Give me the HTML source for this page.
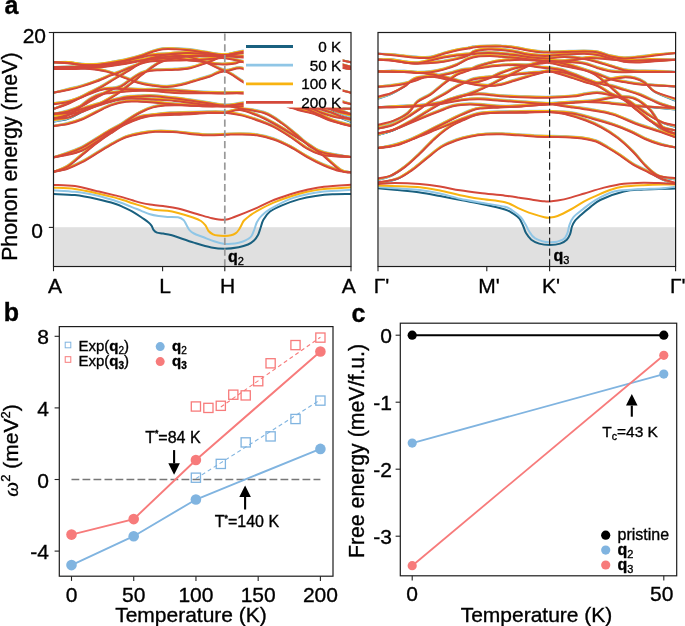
<!DOCTYPE html>
<html><head><meta charset="utf-8"><style>
html,body{margin:0;padding:0;background:#fff;}
body{width:685px;height:626px;overflow:hidden;font-family:"Liberation Sans",sans-serif;}
svg{position:absolute;left:0;top:0;}
svg{will-change:transform;}
text{stroke:#000;stroke-width:0.35px;}
</style></head><body>
<svg width="685" height="626" viewBox="0 0 685 626">
<rect x="54.5" y="227.2" width="296" height="38.6" fill="#e0e0e0"/>
<rect x="379" y="227.2" width="296" height="38.6" fill="#e0e0e0"/>
<defs><clipPath id="cl"><rect x="53.5" y="32.5" width="297.5" height="234"/></clipPath><clipPath id="cr"><rect x="378" y="32.5" width="297.6" height="234"/></clipPath></defs>
<g clip-path="url(#cl)" fill="none" stroke-linecap="round" stroke-linejoin="round">
<g stroke="#19607f" stroke-width="2.0">
<path d="M53.5,62.3 C55.9,62.3 63.2,62.1 68.0,62.5 C72.8,62.9 77.2,64.1 82.0,64.4 C86.8,64.7 92.2,64.7 97.0,64.4 C101.8,64.1 106.2,63.3 111.0,62.5 C115.8,61.7 121.0,60.8 126.0,59.6 C131.0,58.4 136.7,56.9 141.0,55.5 C145.3,54.1 148.3,52.6 152.0,51.5 C155.7,50.4 159.0,49.2 163.0,48.8 C167.0,48.3 171.5,48.6 176.0,48.8 C180.5,49.0 185.2,49.2 190.0,49.8 C194.8,50.3 199.2,51.3 205.0,52.1 C210.8,52.9 218.5,54.9 224.8,54.7 C231.1,54.6 235.5,52.1 243.0,51.2 C250.5,50.3 260.5,49.5 270.0,49.5 C279.5,49.5 290.8,50.3 300.0,51.5 C309.2,52.7 316.5,54.7 325.0,56.5 C333.5,58.3 346.7,61.3 351.0,62.3"/>
<path d="M53.5,68.9 C57.1,68.8 68.9,68.5 75.0,68.4 C81.1,68.3 85.2,68.0 90.0,68.4 C94.8,68.8 100.0,69.8 104.0,70.6 C108.0,71.4 110.3,72.3 114.0,73.5 C117.7,74.7 122.0,76.5 126.0,77.9 C130.0,79.4 133.5,81.0 138.0,82.2 C142.5,83.4 148.2,84.5 153.0,85.2 C157.8,85.9 162.3,86.6 167.0,86.5 C171.7,86.4 176.3,85.5 181.0,84.5 C185.7,83.5 190.2,81.9 195.0,80.5 C199.8,79.1 205.0,77.6 210.0,76.0 C215.0,74.4 219.3,70.1 224.8,71.0 C230.3,71.9 236.8,78.1 243.0,81.5 C249.2,84.9 255.0,88.5 262.0,91.5 C269.0,94.5 277.8,97.5 285.0,99.5 C292.2,101.5 299.2,102.4 305.0,103.5 C310.8,104.6 315.5,105.2 320.0,106.0 C324.5,106.8 328.3,107.2 332.0,108.0 C335.7,108.8 338.8,110.0 342.0,111.0 C345.2,112.0 349.5,113.6 351.0,114.1"/>
<path d="M53.5,68.9 C58.2,68.7 74.8,67.9 82.0,67.6 C89.2,67.3 92.2,67.2 97.0,66.9 C101.8,66.6 106.2,66.1 111.0,65.5 C115.8,64.9 121.0,64.2 126.0,63.3 C131.0,62.4 136.5,61.3 141.0,60.3 C145.5,59.3 147.3,58.2 153.0,57.5 C158.7,56.8 166.7,56.3 175.0,56.0 C183.3,55.7 194.7,55.9 203.0,55.8 C211.3,55.7 218.1,55.3 224.8,55.5 C231.5,55.7 235.5,56.7 243.0,57.0 C250.5,57.3 260.5,56.8 270.0,57.5 C279.5,58.2 290.8,60.2 300.0,61.5 C309.2,62.8 316.5,64.3 325.0,65.5 C333.5,66.7 346.7,68.3 351.0,68.9"/>
<path d="M53.5,92.7 C55.9,92.2 63.2,90.6 68.0,89.5 C72.8,88.4 77.2,87.4 82.0,85.9 C86.8,84.5 92.2,82.6 97.0,80.8 C101.8,79.0 107.3,76.4 111.0,74.9 C114.7,73.4 115.3,73.5 119.0,72.0 C122.7,70.5 127.8,68.0 133.0,66.2 C138.2,64.4 143.0,62.0 150.0,61.0 C157.0,60.0 167.5,60.2 175.0,60.0 C182.5,59.8 189.2,59.8 195.0,59.5 C200.8,59.2 205.0,58.8 210.0,58.5 C215.0,58.2 219.3,57.2 224.8,57.7 C230.3,58.2 235.5,59.5 243.0,61.5 C250.5,63.5 260.5,66.2 270.0,69.5 C279.5,72.8 290.8,77.2 300.0,81.5 C309.2,85.8 318.0,92.2 325.0,95.5 C332.0,98.8 337.7,100.1 342.0,101.5 C346.3,102.9 349.5,103.6 351.0,104.0"/>
<path d="M53.5,103.6 C55.9,103.2 63.2,102.6 68.0,101.5 C72.8,100.4 77.7,98.4 82.0,96.8 C86.3,95.2 90.3,93.0 94.0,91.7 C97.7,90.4 100.7,89.4 104.0,88.8 C107.3,88.2 110.3,88.1 114.0,88.1 C117.7,88.1 121.5,88.6 126.0,88.8 C130.5,89.0 136.5,89.4 141.0,89.5 C145.5,89.6 147.3,89.4 153.0,89.5 C158.7,89.6 167.2,89.6 175.0,90.0 C182.8,90.4 191.7,91.5 200.0,92.0 C208.3,92.5 217.6,92.7 224.8,92.8 C232.0,92.9 235.5,92.3 243.0,92.8 C250.5,93.2 260.5,94.4 270.0,95.5 C279.5,96.6 292.5,98.2 300.0,99.5 C307.5,100.8 310.5,101.7 315.0,103.0 C319.5,104.3 323.5,106.2 326.8,107.5 C330.1,108.9 332.3,110.2 335.0,111.4 C337.7,112.6 340.3,113.8 343.0,114.8 C345.7,115.8 349.7,116.8 351.0,117.2"/>
<path d="M53.5,113.9 C55.9,113.4 63.2,112.4 68.0,111.0 C72.8,109.6 77.2,107.8 82.0,105.5 C86.8,103.2 92.2,99.7 97.0,97.0 C101.8,94.3 107.0,91.3 111.0,89.5 C115.0,87.7 117.5,87.8 120.7,86.2 C123.9,84.6 126.5,82.2 129.9,80.0 C133.3,77.8 137.5,74.5 141.1,72.9 C144.7,71.3 148.2,70.8 151.3,70.3 C154.5,69.8 156.1,69.9 160.0,69.7 C163.9,69.5 170.0,69.6 175.0,69.3 C180.0,69.0 184.7,69.0 190.0,67.8 C195.3,66.6 200.9,64.4 206.7,62.3 C212.5,60.2 218.8,57.0 224.8,55.3 C230.9,53.6 235.5,52.8 243.0,52.0 C250.5,51.2 260.5,50.2 270.0,50.5 C279.5,50.8 290.8,52.0 300.0,53.5 C309.2,55.0 316.5,57.2 325.0,59.5 C333.5,61.8 346.7,65.8 351.0,67.0"/>
<path d="M53.5,62.3 C56.2,62.4 63.9,62.6 70.0,63.0 C76.1,63.4 83.3,64.7 90.0,64.8 C96.7,64.9 103.3,64.4 110.0,63.5 C116.7,62.6 123.3,60.9 130.0,59.5 C136.7,58.1 143.3,55.9 150.0,55.0 C156.7,54.1 163.4,53.7 170.0,54.0 C176.6,54.3 183.5,55.2 189.6,56.6 C195.7,58.0 200.8,60.0 206.7,62.3 C212.6,64.6 218.8,69.3 224.8,70.3 C230.9,71.3 236.3,65.9 243.0,68.3 C249.7,70.7 258.8,79.3 265.0,84.5 C271.2,89.7 275.8,95.7 280.0,99.5 C284.2,103.3 285.0,105.9 290.0,107.3 C295.0,108.7 303.3,107.8 310.0,107.9 C316.7,108.1 323.2,108.1 330.0,108.2 C336.8,108.3 347.5,108.7 351.0,108.8"/>
<path d="M53.5,118.2 C55.4,117.8 61.4,117.3 65.0,116.0 C68.6,114.7 72.2,112.3 75.0,110.5 C77.8,108.7 79.3,107.0 82.0,105.0 C84.7,103.0 87.8,100.1 91.0,98.3 C94.2,96.5 97.7,94.9 101.0,93.9 C104.3,92.9 106.8,93.0 111.0,92.5 C115.2,92.0 121.0,91.4 126.0,91.0 C131.0,90.6 136.5,90.4 141.0,90.3 C145.5,90.2 147.3,90.1 153.0,90.5 C158.7,90.9 167.2,92.1 175.0,92.5 C182.8,92.9 191.7,92.7 200.0,92.8 C208.3,92.9 217.6,92.9 224.8,92.9 C232.0,92.9 235.5,92.6 243.0,92.9 C250.5,93.2 262.2,93.4 270.0,94.5 C277.8,95.6 284.2,98.0 290.0,99.5 C295.8,101.0 300.3,102.1 305.0,103.5 C309.7,104.9 313.6,106.4 318.0,108.0 C322.4,109.6 327.7,111.2 331.6,112.8 C335.5,114.5 338.0,116.6 341.2,118.1 C344.4,119.5 349.4,121.1 351.0,121.7"/>
<path d="M53.5,117.1 C55.9,116.7 63.2,115.9 68.0,114.5 C72.8,113.2 77.2,110.6 82.0,108.9 C86.8,107.2 92.2,105.5 97.0,104.1 C101.8,102.7 106.2,101.7 111.0,100.5 C115.8,99.3 121.0,97.8 126.0,97.0 C131.0,96.2 136.5,96.2 141.0,96.0 C145.5,95.8 147.3,95.4 153.0,95.7 C158.7,96.0 168.8,97.2 175.0,97.9 C181.2,98.6 184.2,99.2 190.0,100.0 C195.8,100.8 204.2,102.1 210.0,103.0 C215.8,103.9 219.3,105.1 224.8,105.2 C230.3,105.3 235.5,104.2 243.0,103.7 C250.5,103.2 261.8,102.0 270.0,102.0 C278.2,102.0 286.2,103.0 292.0,104.0 C297.8,105.0 300.3,106.2 305.0,108.0 C309.7,109.8 315.0,112.3 320.0,114.5 C325.0,116.7 329.8,119.2 335.0,121.0 C340.2,122.8 348.3,124.8 351.0,125.5"/>
<path d="M53.5,121.5 C55.9,121.1 63.2,120.4 68.0,118.8 C72.8,117.2 77.2,114.0 82.0,111.8 C86.8,109.6 92.2,107.4 97.0,105.6 C101.8,103.8 106.2,102.4 111.0,101.2 C115.8,100.0 121.0,98.8 126.0,98.3 C131.0,97.8 136.5,98.2 141.0,98.3 C145.5,98.4 147.3,98.6 153.0,99.0 C158.7,99.4 167.2,99.7 175.0,100.5 C182.8,101.3 191.7,102.8 200.0,103.7 C208.3,104.6 217.6,105.6 224.8,105.9 C232.0,106.2 236.8,106.1 243.0,105.8 C249.2,105.5 255.5,104.2 262.0,104.0 C268.5,103.8 277.0,104.0 282.0,104.5 C287.0,105.0 289.3,106.2 292.0,107.0 C294.7,107.8 294.5,108.5 298.0,109.5 C301.5,110.5 307.6,111.4 312.8,113.1 C318.0,114.8 324.7,118.0 329.3,119.7 C333.9,121.4 336.6,122.0 340.2,123.0 C343.8,124.0 349.2,125.3 351.0,125.8"/>
<path d="M53.5,125.9 C55.9,125.5 63.2,124.7 68.0,123.5 C72.8,122.3 77.2,121.0 82.0,119.0 C86.8,117.0 92.2,113.8 97.0,111.5 C101.8,109.2 106.2,106.6 111.0,104.9 C115.8,103.2 121.0,101.8 126.0,101.2 C131.0,100.6 136.5,101.1 141.0,101.2 C145.5,101.3 147.3,101.4 153.0,101.9 C158.7,102.4 167.2,103.4 175.0,104.0 C182.8,104.6 191.7,105.2 200.0,105.5 C208.3,105.8 217.6,106.3 224.8,105.9 C232.0,105.5 235.5,103.9 243.0,103.0 C250.5,102.1 261.0,100.4 270.0,100.5 C279.0,100.6 290.0,102.2 297.0,103.5 C304.0,104.8 307.6,106.5 311.8,108.0 C316.0,109.5 318.1,111.1 322.0,112.5 C325.9,113.9 330.2,115.4 335.0,116.5 C339.8,117.6 348.3,118.5 351.0,118.9"/>
<path d="M53.5,67.0 C57.9,66.9 70.6,66.9 80.0,66.5 C89.4,66.1 101.7,65.3 110.0,64.5 C118.3,63.7 123.3,62.4 130.0,61.5 C136.7,60.6 142.7,59.6 150.0,59.0 C157.3,58.4 167.5,57.6 174.0,57.7 C180.5,57.9 184.2,59.3 189.0,59.9 C193.8,60.5 198.7,60.8 203.0,61.4 C207.3,62.0 211.4,63.2 215.0,63.6 C218.6,64.0 221.4,64.1 224.8,64.0 C228.2,63.9 232.5,63.3 235.5,62.9 C238.5,62.5 237.2,61.0 243.0,61.4 C248.8,61.8 260.5,63.3 270.0,65.5 C279.5,67.7 290.8,71.2 300.0,74.5 C309.2,77.8 316.5,82.5 325.0,85.5 C333.5,88.5 346.7,91.5 351.0,92.7"/>
<path d="M53.5,108.9 C56.2,107.8 63.9,105.3 70.0,102.5 C76.1,99.7 85.0,94.8 90.0,92.3 C95.0,89.8 96.8,89.1 100.2,87.2 C103.6,85.3 107.0,83.1 110.4,81.1 C113.8,79.0 117.3,77.0 120.7,74.9 C124.1,72.9 127.5,70.9 130.9,68.8 C134.3,66.7 137.7,64.3 141.0,62.5 C144.3,60.7 147.8,59.2 151.0,58.0 C154.2,56.8 156.0,56.3 160.0,55.5 C164.0,54.7 170.0,53.5 175.0,53.0 C180.0,52.5 185.0,52.4 190.0,52.5 C195.0,52.6 199.2,53.1 205.0,53.5 C210.8,53.9 218.5,55.1 224.8,54.9 C231.1,54.7 235.5,53.1 243.0,52.5 C250.5,51.9 260.5,51.2 270.0,51.5 C279.5,51.8 290.8,52.8 300.0,54.5 C309.2,56.2 316.5,59.4 325.0,61.5 C333.5,63.6 346.7,66.1 351.0,67.0"/>
<path d="M53.5,118.7 C56.2,117.9 64.8,115.5 70.0,114.0 C75.2,112.5 80.0,111.2 85.0,109.5 C90.0,107.8 95.0,105.9 100.0,103.5 C105.0,101.1 110.0,98.2 115.0,95.0 C120.0,91.8 125.0,87.8 130.0,84.0 C135.0,80.2 140.0,75.7 145.0,72.0 C150.0,68.3 155.0,64.4 160.0,62.0 C165.0,59.6 170.0,58.8 175.0,57.7 C180.0,56.6 185.0,56.0 190.0,55.5 C195.0,55.0 199.2,55.1 205.0,55.0 C210.8,54.9 218.5,54.7 224.8,54.9 C231.1,55.1 235.5,55.9 243.0,56.0 C250.5,56.1 260.5,54.9 270.0,55.5 C279.5,56.1 290.8,58.0 300.0,59.5 C309.2,61.0 316.5,62.9 325.0,64.5 C333.5,66.1 346.7,68.2 351.0,68.9"/>
<path d="M53.5,171.9 C55.9,171.3 62.8,169.9 67.6,168.2 C72.4,166.5 77.3,164.2 82.2,161.7 C87.1,159.1 91.9,155.8 96.8,152.9 C101.7,150.0 106.5,146.8 111.4,144.1 C116.3,141.4 121.1,138.6 126.0,136.8 C130.9,135.0 135.8,134.1 140.6,133.2 C145.4,132.3 149.7,131.6 155.0,131.3 C160.3,131.0 166.8,131.2 172.6,131.6 C178.4,131.9 184.2,132.9 190.0,133.4 C195.8,133.9 201.8,134.7 207.6,134.8 C213.4,135.0 219.4,134.5 224.8,134.3 C230.2,134.2 234.7,133.8 240.0,133.9 C245.3,134.0 251.2,134.0 256.8,134.8 C262.4,135.7 268.0,137.1 273.6,139.0 C279.2,140.9 284.8,143.6 290.4,146.5 C296.0,149.4 301.5,153.5 307.1,156.6 C312.7,159.7 318.3,162.6 323.9,165.0 C329.5,167.4 336.2,169.7 340.7,170.9 C345.2,172.1 349.3,172.0 351.0,172.2"/>
<path d="M53.5,171.9 C55.9,170.9 62.8,168.9 67.6,166.0 C72.4,163.1 77.3,158.3 82.2,154.4 C87.1,150.5 91.9,146.3 96.8,142.7 C101.7,139.0 106.5,135.7 111.4,132.5 C116.3,129.3 121.1,126.1 126.0,123.7 C130.9,121.3 136.1,119.4 140.6,117.9 C145.1,116.4 148.1,115.7 153.0,114.9 C157.9,114.1 163.8,113.4 170.0,113.0 C176.2,112.6 183.7,112.7 190.0,112.5 C196.3,112.3 201.8,112.0 207.6,112.0 C213.4,112.0 219.4,111.8 224.8,112.2 C230.2,112.6 234.7,113.3 240.0,114.6 C245.3,115.8 251.2,117.7 256.8,119.7 C262.4,121.7 268.0,123.6 273.6,126.4 C279.2,129.2 284.8,132.9 290.4,136.5 C296.0,140.1 302.1,145.3 307.1,148.2 C312.1,151.1 316.1,152.8 320.6,154.1 C325.1,155.4 328.9,155.3 334.0,155.8 C339.1,156.3 348.2,156.9 351.0,157.1"/>
<path d="M53.5,157.3 C55.9,156.8 62.8,155.6 67.6,154.4 C72.4,153.2 77.3,152.2 82.2,150.0 C87.1,147.8 91.9,144.4 96.8,141.2 C101.7,138.0 106.5,134.4 111.4,131.0 C116.3,127.6 121.1,124.0 126.0,120.8 C130.9,117.6 136.1,114.3 140.6,112.0 C145.1,109.7 148.9,108.1 153.0,106.9 C157.1,105.7 160.5,105.3 165.0,105.0 C169.5,104.7 175.0,104.8 180.0,104.8 C185.0,104.8 190.0,105.1 195.0,105.3 C200.0,105.5 205.0,105.8 210.0,105.8 C215.0,105.8 219.8,104.8 224.8,105.2 C229.8,105.6 233.3,106.6 240.0,107.9 C246.7,109.2 258.2,110.5 265.2,113.0 C272.2,115.5 276.4,119.1 282.0,123.0 C287.6,126.9 294.1,132.6 298.8,136.5 C303.6,140.4 306.3,143.8 310.5,146.5 C314.7,149.2 317.1,150.6 323.9,152.4 C330.6,154.2 346.5,156.3 351.0,157.1"/>
<path d="M53.5,157.3 C55.9,156.6 62.8,154.6 67.6,152.9 C72.4,151.2 77.3,149.5 82.2,147.1 C87.1,144.7 91.9,141.2 96.8,138.3 C101.7,135.4 106.5,132.2 111.4,129.5 C116.3,126.8 121.1,124.4 126.0,122.2 C130.9,120.0 136.1,117.6 140.6,116.4 C145.1,115.2 148.1,115.2 153.0,114.9 C157.9,114.6 163.8,114.7 170.0,114.5 C176.2,114.3 183.7,114.1 190.0,113.8 C196.3,113.5 201.8,112.8 207.6,112.5 C213.4,112.2 219.4,112.7 224.8,112.2 C230.2,111.7 234.8,109.2 240.0,109.6 C245.2,110.0 250.4,112.3 256.0,114.5 C261.6,116.7 266.5,119.1 273.6,123.0 C280.7,126.9 291.2,133.3 298.8,138.1 C306.4,142.9 311.9,146.3 318.9,151.6 C325.9,156.9 335.3,166.6 340.7,170.0 C346.1,173.4 349.3,171.8 351.0,172.2"/>
</g>
<g stroke="#8fc6e6" stroke-width="2.0">
<path d="M53.5,62.3 C55.9,62.2 63.2,61.6 68.0,61.9 C72.8,62.1 77.2,63.4 82.0,63.8 C86.8,64.1 92.2,64.1 97.0,63.8 C101.8,63.4 106.2,62.7 111.0,61.9 C115.8,61.0 121.0,60.1 126.0,59.0 C131.0,57.8 136.7,56.2 141.0,54.9 C145.3,53.5 148.3,52.0 152.0,50.9 C155.7,49.7 159.0,48.6 163.0,48.1 C167.0,47.7 171.5,48.0 176.0,48.1 C180.5,48.3 185.2,48.6 190.0,49.1 C194.8,49.7 199.2,50.6 205.0,51.5 C210.8,52.3 218.5,54.2 224.8,54.1 C231.1,53.9 235.5,51.4 243.0,50.6 C250.5,49.7 260.5,48.8 270.0,48.9 C279.5,48.9 290.8,49.7 300.0,50.9 C309.2,52.0 316.5,53.9 325.0,55.9 C333.5,57.8 346.7,61.2 351.0,62.3"/>
<path d="M53.5,68.9 C57.1,68.7 68.9,67.9 75.0,67.8 C81.1,67.6 85.2,67.4 90.0,67.8 C94.8,68.1 100.0,69.1 104.0,69.9 C108.0,70.8 110.3,71.6 114.0,72.8 C117.7,74.1 122.0,75.8 126.0,77.2 C130.0,78.7 133.5,80.3 138.0,81.5 C142.5,82.8 148.2,83.8 153.0,84.5 C157.8,85.3 162.3,86.0 167.0,85.8 C171.7,85.7 176.3,84.8 181.0,83.8 C185.7,82.8 190.2,81.3 195.0,79.8 C199.8,78.4 205.0,76.9 210.0,75.3 C215.0,73.8 219.3,69.4 224.8,70.3 C230.3,71.3 236.8,77.4 243.0,80.8 C249.2,84.3 255.0,87.8 262.0,90.8 C269.0,93.8 277.8,96.8 285.0,98.8 C292.2,100.8 299.2,101.8 305.0,102.8 C310.8,103.9 315.5,104.6 320.0,105.3 C324.5,106.1 328.3,106.5 332.0,107.3 C335.7,108.2 338.8,109.2 342.0,110.3 C345.2,111.5 349.5,113.5 351.0,114.1"/>
<path d="M53.5,68.9 C58.2,68.6 74.8,67.4 82.0,66.9 C89.2,66.5 92.2,66.6 97.0,66.2 C101.8,65.9 106.2,65.4 111.0,64.8 C115.8,64.2 121.0,63.5 126.0,62.6 C131.0,61.8 136.5,60.6 141.0,59.6 C145.5,58.7 147.3,57.6 153.0,56.9 C158.7,56.1 166.7,55.6 175.0,55.4 C183.3,55.1 194.7,55.2 203.0,55.1 C211.3,55.1 218.1,54.6 224.8,54.9 C231.5,55.1 235.5,56.0 243.0,56.4 C250.5,56.7 260.5,56.1 270.0,56.9 C279.5,57.6 290.8,59.5 300.0,60.9 C309.2,62.2 316.5,63.5 325.0,64.8 C333.5,66.2 346.7,68.2 351.0,68.9"/>
<path d="M53.5,92.7 C55.9,92.1 63.2,90.1 68.0,88.8 C72.8,87.6 77.2,86.7 82.0,85.2 C86.8,83.8 92.2,82.0 97.0,80.1 C101.8,78.3 107.3,75.7 111.0,74.2 C114.7,72.8 115.3,72.8 119.0,71.3 C122.7,69.9 127.8,67.4 133.0,65.5 C138.2,63.7 143.0,61.4 150.0,60.4 C157.0,59.3 167.5,59.6 175.0,59.4 C182.5,59.1 189.2,59.1 195.0,58.9 C200.8,58.6 205.0,58.1 210.0,57.9 C215.0,57.6 219.3,56.6 224.8,57.1 C230.3,57.6 235.5,58.9 243.0,60.9 C250.5,62.8 260.5,65.5 270.0,68.8 C279.5,72.2 290.8,76.5 300.0,80.8 C309.2,85.2 318.0,91.5 325.0,94.8 C332.0,98.2 337.7,99.3 342.0,100.8 C346.3,102.4 349.5,103.5 351.0,104.0"/>
<path d="M53.5,102.9 C55.9,102.6 63.2,102.0 68.0,100.8 C72.8,99.7 77.7,97.8 82.0,96.1 C86.3,94.5 90.3,92.4 94.0,91.0 C97.7,89.7 100.7,88.8 104.0,88.1 C107.3,87.5 110.3,87.4 114.0,87.4 C117.7,87.4 121.5,87.9 126.0,88.1 C130.5,88.4 136.5,88.7 141.0,88.8 C145.5,89.0 147.3,88.8 153.0,88.8 C158.7,88.9 167.2,88.9 175.0,89.3 C182.8,89.8 191.7,90.9 200.0,91.3 C208.3,91.8 217.6,92.0 224.8,92.1 C232.0,92.3 235.5,91.7 243.0,92.1 C250.5,92.6 260.5,93.7 270.0,94.8 C279.5,96.0 292.5,97.6 300.0,98.8 C307.5,100.1 310.5,101.0 315.0,102.3 C319.5,103.7 323.5,105.5 326.8,106.9 C330.1,108.4 332.3,109.7 335.0,110.9 C337.7,112.2 340.3,113.5 343.0,114.5 C345.7,115.5 349.7,116.6 351.0,117.0"/>
<path d="M53.5,113.9 C55.9,113.3 63.2,111.9 68.0,110.3 C72.8,108.8 77.2,107.2 82.0,104.8 C86.8,102.5 92.2,99.0 97.0,96.3 C101.8,93.7 107.0,90.6 111.0,88.8 C115.0,87.0 117.5,87.1 120.7,85.5 C123.9,84.0 126.5,81.6 129.9,79.3 C133.3,77.1 137.5,73.9 141.1,72.2 C144.7,70.6 148.2,70.2 151.3,69.6 C154.5,69.1 156.1,69.2 160.0,69.0 C163.9,68.9 170.0,69.0 175.0,68.6 C180.0,68.3 184.7,68.3 190.0,67.1 C195.3,66.0 200.9,63.7 206.7,61.6 C212.5,59.6 218.8,56.4 224.8,54.6 C230.9,52.9 235.5,52.1 243.0,51.4 C250.5,50.6 260.5,49.6 270.0,49.9 C279.5,50.1 290.8,51.4 300.0,52.9 C309.2,54.4 316.5,56.5 325.0,58.9 C333.5,61.2 346.7,65.6 351.0,67.0"/>
<path d="M53.5,62.3 C56.2,62.3 63.9,62.0 70.0,62.4 C76.1,62.7 83.3,64.1 90.0,64.1 C96.7,64.2 103.3,63.7 110.0,62.9 C116.7,62.0 123.3,60.3 130.0,58.9 C136.7,57.4 143.3,55.3 150.0,54.4 C156.7,53.4 163.4,53.1 170.0,53.4 C176.6,53.6 183.5,54.6 189.6,56.0 C195.7,57.3 200.8,59.4 206.7,61.6 C212.6,63.9 218.8,68.6 224.8,69.6 C230.9,70.6 236.3,65.3 243.0,67.6 C249.7,70.0 258.8,78.6 265.0,83.8 C271.2,89.0 275.8,95.0 280.0,98.8 C284.2,102.6 285.0,105.2 290.0,106.6 C295.0,108.0 303.3,107.1 310.0,107.2 C316.7,107.4 323.2,107.3 330.0,107.5 C336.8,107.8 347.5,108.6 351.0,108.8"/>
<path d="M53.5,117.5 C55.4,117.2 61.4,116.6 65.0,115.3 C68.6,114.1 72.2,111.7 75.0,109.8 C77.8,108.0 79.3,106.4 82.0,104.3 C84.7,102.3 87.8,99.5 91.0,97.6 C94.2,95.8 97.7,94.2 101.0,93.2 C104.3,92.3 106.8,92.3 111.0,91.8 C115.2,91.4 121.0,90.7 126.0,90.3 C131.0,90.0 136.5,89.7 141.0,89.6 C145.5,89.6 147.3,89.5 153.0,89.8 C158.7,90.2 167.2,91.5 175.0,91.8 C182.8,92.2 191.7,92.1 200.0,92.1 C208.3,92.2 217.6,92.2 224.8,92.2 C232.0,92.3 235.5,92.0 243.0,92.2 C250.5,92.5 262.2,92.8 270.0,93.8 C277.8,94.9 284.2,97.3 290.0,98.8 C295.8,100.3 300.3,101.4 305.0,102.8 C309.7,104.3 313.6,105.8 318.0,107.3 C322.4,108.9 327.7,110.6 331.6,112.3 C335.5,114.0 338.0,116.2 341.2,117.7 C344.4,119.3 349.4,120.9 351.0,121.6"/>
<path d="M53.5,116.9 C55.9,116.5 63.2,115.6 68.0,114.1 C72.8,112.7 77.2,110.1 82.0,108.3 C86.8,106.5 92.2,104.9 97.0,103.4 C101.8,102.0 106.2,101.0 111.0,99.8 C115.8,98.7 121.0,97.1 126.0,96.3 C131.0,95.6 136.5,95.6 141.0,95.3 C145.5,95.1 147.3,94.7 153.0,95.0 C158.7,95.4 168.8,96.5 175.0,97.2 C181.2,98.0 184.2,98.5 190.0,99.3 C195.8,100.2 204.2,101.5 210.0,102.3 C215.8,103.2 219.3,104.4 224.8,104.5 C230.3,104.7 235.5,103.6 243.0,103.0 C250.5,102.5 261.8,101.3 270.0,101.3 C278.2,101.4 286.2,102.3 292.0,103.3 C297.8,104.3 300.3,105.6 305.0,107.3 C309.7,109.1 315.0,111.7 320.0,113.8 C325.0,116.0 329.8,118.5 335.0,120.3 C340.2,122.2 348.3,124.1 351.0,124.8"/>
<path d="M53.5,121.4 C55.9,120.9 63.2,120.1 68.0,118.4 C72.8,116.7 77.2,113.4 82.0,111.2 C86.8,108.9 92.2,106.7 97.0,104.9 C101.8,103.2 106.2,101.8 111.0,100.5 C115.8,99.3 121.0,98.1 126.0,97.6 C131.0,97.2 136.5,97.5 141.0,97.6 C145.5,97.8 147.3,98.0 153.0,98.3 C158.7,98.7 167.2,99.1 175.0,99.8 C182.8,100.6 191.7,102.1 200.0,103.0 C208.3,104.0 217.6,104.9 224.8,105.2 C232.0,105.6 236.8,105.5 243.0,105.1 C249.2,104.8 255.5,103.6 262.0,103.3 C268.5,103.1 277.0,103.3 282.0,103.8 C287.0,104.3 289.3,105.5 292.0,106.3 C294.7,107.2 294.5,107.8 298.0,108.8 C301.5,109.9 307.6,110.7 312.8,112.4 C318.0,114.1 324.7,117.4 329.3,119.0 C333.9,120.7 336.6,121.3 340.2,122.3 C343.8,123.4 349.2,124.7 351.0,125.1"/>
<path d="M53.5,125.9 C55.9,125.4 63.2,124.1 68.0,122.8 C72.8,121.6 77.2,120.3 82.0,118.3 C86.8,116.3 92.2,113.2 97.0,110.8 C101.8,108.5 106.2,106.0 111.0,104.2 C115.8,102.5 121.0,101.2 126.0,100.5 C131.0,99.9 136.5,100.4 141.0,100.5 C145.5,100.7 147.3,100.8 153.0,101.2 C158.7,101.7 167.2,102.8 175.0,103.3 C182.8,103.9 191.7,104.5 200.0,104.8 C208.3,105.2 217.6,105.7 224.8,105.2 C232.0,104.8 235.5,103.2 243.0,102.3 C250.5,101.4 261.0,99.8 270.0,99.8 C279.0,99.9 290.0,101.6 297.0,102.8 C304.0,104.1 307.6,105.8 311.8,107.3 C316.0,108.8 318.1,110.4 322.0,111.8 C325.9,113.3 330.2,114.7 335.0,115.8 C339.8,117.0 348.3,118.4 351.0,118.9"/>
<path d="M53.5,67.0 C57.9,66.8 70.6,66.4 80.0,65.8 C89.4,65.3 101.7,64.7 110.0,63.9 C118.3,63.0 123.3,61.8 130.0,60.9 C136.7,59.9 142.7,59.0 150.0,58.4 C157.3,57.7 167.5,56.9 174.0,57.1 C180.5,57.2 184.2,58.6 189.0,59.2 C193.8,59.9 198.7,60.1 203.0,60.8 C207.3,61.4 211.4,62.5 215.0,62.9 C218.6,63.4 221.4,63.5 224.8,63.4 C228.2,63.2 232.5,62.7 235.5,62.2 C238.5,61.8 237.2,60.3 243.0,60.8 C248.8,61.2 260.5,62.7 270.0,64.8 C279.5,67.0 290.8,70.5 300.0,73.8 C309.2,77.2 316.5,81.7 325.0,84.8 C333.5,88.0 346.7,91.4 351.0,92.7"/>
<path d="M53.5,108.9 C56.2,107.7 63.9,104.7 70.0,101.8 C76.1,99.0 85.0,94.2 90.0,91.6 C95.0,89.1 96.8,88.4 100.2,86.5 C103.6,84.7 107.0,82.5 110.4,80.4 C113.8,78.4 117.3,76.3 120.7,74.2 C124.1,72.2 127.5,70.2 130.9,68.1 C134.3,66.1 137.7,63.6 141.0,61.9 C144.3,60.1 147.8,58.5 151.0,57.4 C154.2,56.2 156.0,55.7 160.0,54.9 C164.0,54.0 170.0,52.9 175.0,52.4 C180.0,51.9 185.0,51.8 190.0,51.9 C195.0,51.9 199.2,52.5 205.0,52.9 C210.8,53.2 218.5,54.4 224.8,54.2 C231.1,54.1 235.5,52.4 243.0,51.9 C250.5,51.3 260.5,50.5 270.0,50.9 C279.5,51.2 290.8,52.2 300.0,53.9 C309.2,55.5 316.5,58.7 325.0,60.9 C333.5,63.0 346.7,66.0 351.0,67.0"/>
<path d="M53.5,118.7 C56.2,117.8 64.8,115.0 70.0,113.3 C75.2,111.7 80.0,110.6 85.0,108.8 C90.0,107.1 95.0,105.3 100.0,102.8 C105.0,100.4 110.0,97.6 115.0,94.3 C120.0,91.1 125.0,87.2 130.0,83.3 C135.0,79.5 140.0,75.0 145.0,71.3 C150.0,67.7 155.0,63.7 160.0,61.4 C165.0,59.0 170.0,58.1 175.0,57.1 C180.0,56.0 185.0,55.3 190.0,54.9 C195.0,54.4 199.2,54.5 205.0,54.4 C210.8,54.2 218.5,54.1 224.8,54.2 C231.1,54.4 235.5,55.2 243.0,55.4 C250.5,55.5 260.5,54.3 270.0,54.9 C279.5,55.4 290.8,57.4 300.0,58.9 C309.2,60.4 316.5,62.2 325.0,63.9 C333.5,65.5 346.7,68.1 351.0,68.9"/>
<path d="M53.5,171.9 C55.9,171.2 62.8,169.4 67.6,167.5 C72.4,165.7 77.3,163.6 82.2,161.0 C87.1,158.5 91.9,155.2 96.8,152.2 C101.7,149.3 106.5,146.1 111.4,143.4 C116.3,140.8 121.1,138.0 126.0,136.2 C130.9,134.3 135.8,133.5 140.6,132.5 C145.4,131.6 149.7,130.9 155.0,130.7 C160.3,130.4 166.8,130.6 172.6,130.9 C178.4,131.3 184.2,132.2 190.0,132.8 C195.8,133.3 201.8,134.0 207.6,134.2 C213.4,134.3 219.4,133.8 224.8,133.7 C230.2,133.5 234.7,133.2 240.0,133.2 C245.3,133.3 251.2,133.3 256.8,134.2 C262.4,135.0 268.0,136.4 273.6,138.3 C279.2,140.3 284.8,142.9 290.4,145.8 C296.0,148.8 301.5,152.9 307.1,155.9 C312.7,159.0 318.3,162.0 323.9,164.3 C329.5,166.7 336.2,168.9 340.7,170.2 C345.2,171.6 349.3,171.9 351.0,172.2"/>
<path d="M53.5,171.9 C55.9,170.8 62.8,168.4 67.6,165.3 C72.4,162.3 77.3,157.6 82.2,153.8 C87.1,149.9 91.9,145.7 96.8,142.0 C101.7,138.4 106.5,135.0 111.4,131.8 C116.3,128.7 121.1,125.5 126.0,123.0 C130.9,120.6 136.1,118.7 140.6,117.2 C145.1,115.8 148.1,115.1 153.0,114.2 C157.9,113.4 163.8,112.8 170.0,112.3 C176.2,111.9 183.7,112.0 190.0,111.8 C196.3,111.7 201.8,111.4 207.6,111.3 C213.4,111.3 219.4,111.1 224.8,111.5 C230.2,112.0 234.7,112.7 240.0,113.9 C245.3,115.2 251.2,117.1 256.8,119.0 C262.4,121.0 268.0,123.0 273.6,125.8 C279.2,128.6 284.8,132.2 290.4,135.8 C296.0,139.5 302.1,144.6 307.1,147.5 C312.1,150.5 316.1,152.2 320.6,153.4 C325.1,154.7 328.9,154.5 334.0,155.2 C339.1,155.8 348.2,156.8 351.0,157.1"/>
<path d="M53.5,157.3 C55.9,156.7 62.8,155.1 67.6,153.8 C72.4,152.4 77.3,151.6 82.2,149.3 C87.1,147.1 91.9,143.7 96.8,140.5 C101.7,137.4 106.5,133.8 111.4,130.3 C116.3,126.9 121.1,123.3 126.0,120.1 C130.9,117.0 136.1,113.7 140.6,111.3 C145.1,109.0 148.9,107.4 153.0,106.2 C157.1,105.1 160.5,104.7 165.0,104.3 C169.5,104.0 175.0,104.1 180.0,104.1 C185.0,104.2 190.0,104.5 195.0,104.6 C200.0,104.8 205.0,105.2 210.0,105.1 C215.0,105.1 219.8,104.2 224.8,104.5 C229.8,104.9 233.3,106.0 240.0,107.2 C246.7,108.5 258.2,109.8 265.2,112.3 C272.2,114.9 276.4,118.4 282.0,122.3 C287.6,126.3 294.1,131.9 298.8,135.8 C303.6,139.8 306.3,143.2 310.5,145.8 C314.7,148.5 317.1,149.9 323.9,151.8 C330.6,153.6 346.5,156.2 351.0,157.1"/>
<path d="M53.5,157.3 C55.9,156.5 62.8,154.1 67.6,152.2 C72.4,150.4 77.3,148.9 82.2,146.4 C87.1,144.0 91.9,140.6 96.8,137.7 C101.7,134.7 106.5,131.5 111.4,128.8 C116.3,126.2 121.1,123.7 126.0,121.5 C130.9,119.4 136.1,117.0 140.6,115.8 C145.1,114.5 148.1,114.6 153.0,114.2 C157.9,113.9 163.8,114.0 170.0,113.8 C176.2,113.7 183.7,113.5 190.0,113.1 C196.3,112.8 201.8,112.1 207.6,111.8 C213.4,111.6 219.4,112.0 224.8,111.5 C230.2,111.1 234.8,108.6 240.0,108.9 C245.2,109.3 250.4,111.6 256.0,113.8 C261.6,116.1 266.5,118.4 273.6,122.3 C280.7,126.3 291.2,132.7 298.8,137.4 C306.4,142.2 311.9,145.6 318.9,150.9 C325.9,156.3 335.3,165.8 340.7,169.3 C346.1,172.9 349.3,171.7 351.0,172.2"/>
</g>
<g stroke="#f8b310" stroke-width="2.0">
<path d="M53.5,62.3 C55.9,62.3 63.2,61.9 68.0,62.1 C72.8,62.4 77.2,63.7 82.0,64.1 C86.8,64.4 92.2,64.4 97.0,64.1 C101.8,63.7 106.2,63.0 111.0,62.1 C115.8,61.3 121.0,60.4 126.0,59.2 C131.0,58.1 136.7,56.5 141.0,55.1 C145.3,53.8 148.3,52.3 152.0,51.1 C155.7,50.0 159.0,48.9 163.0,48.4 C167.0,48.0 171.5,48.3 176.0,48.4 C180.5,48.6 185.2,48.9 190.0,49.4 C194.8,50.0 199.2,50.9 205.0,51.8 C210.8,52.6 218.5,54.5 224.8,54.4 C231.1,54.2 235.5,51.7 243.0,50.9 C250.5,50.0 260.5,49.1 270.0,49.1 C279.5,49.2 290.8,50.0 300.0,51.1 C309.2,52.3 316.5,54.3 325.0,56.1 C333.5,58.0 346.7,61.3 351.0,62.3"/>
<path d="M53.5,68.9 C57.1,68.8 68.9,68.2 75.0,68.1 C81.1,67.9 85.2,67.7 90.0,68.1 C94.8,68.4 100.0,69.4 104.0,70.2 C108.0,71.1 110.3,71.9 114.0,73.2 C117.7,74.4 122.0,76.1 126.0,77.6 C130.0,79.0 133.5,80.6 138.0,81.9 C142.5,83.1 148.2,84.1 153.0,84.9 C157.8,85.6 162.3,86.3 167.0,86.2 C171.7,86.0 176.3,85.2 181.0,84.2 C185.7,83.2 190.2,81.6 195.0,80.2 C199.8,78.7 205.0,77.2 210.0,75.7 C215.0,74.1 219.3,69.7 224.8,70.7 C230.3,71.6 236.8,77.7 243.0,81.2 C249.2,84.6 255.0,88.2 262.0,91.2 C269.0,94.2 277.8,97.2 285.0,99.2 C292.2,101.2 299.2,102.1 305.0,103.2 C310.8,104.2 315.5,104.9 320.0,105.7 C324.5,106.4 328.3,106.8 332.0,107.7 C335.7,108.5 338.8,109.6 342.0,110.7 C345.2,111.7 349.5,113.5 351.0,114.1"/>
<path d="M53.5,68.9 C58.2,68.6 74.8,67.6 82.0,67.2 C89.2,66.9 92.2,66.9 97.0,66.6 C101.8,66.2 106.2,65.8 111.0,65.2 C115.8,64.5 121.0,63.8 126.0,62.9 C131.0,62.1 136.5,60.9 141.0,59.9 C145.5,59.0 147.3,57.9 153.0,57.1 C158.7,56.4 166.7,55.9 175.0,55.6 C183.3,55.4 194.7,55.5 203.0,55.4 C211.3,55.4 218.1,54.9 224.8,55.1 C231.5,55.4 235.5,56.3 243.0,56.6 C250.5,57.0 260.5,56.4 270.0,57.1 C279.5,57.9 290.8,59.8 300.0,61.1 C309.2,62.5 316.5,63.9 325.0,65.2 C333.5,66.4 346.7,68.3 351.0,68.9"/>
<path d="M53.5,92.7 C55.9,92.1 63.2,90.3 68.0,89.2 C72.8,88.0 77.2,87.0 82.0,85.6 C86.8,84.1 92.2,82.3 97.0,80.5 C101.8,78.6 107.3,76.0 111.0,74.6 C114.7,73.1 115.3,73.1 119.0,71.7 C122.7,70.2 127.8,67.7 133.0,65.9 C138.2,64.0 143.0,61.7 150.0,60.6 C157.0,59.6 167.5,59.9 175.0,59.6 C182.5,59.4 189.2,59.4 195.0,59.1 C200.8,58.9 205.0,58.4 210.0,58.1 C215.0,57.9 219.3,56.9 224.8,57.4 C230.3,57.9 235.5,59.2 243.0,61.1 C250.5,63.1 260.5,65.8 270.0,69.2 C279.5,72.5 290.8,76.8 300.0,81.2 C309.2,85.5 318.0,91.8 325.0,95.2 C332.0,98.5 337.7,99.7 342.0,101.2 C346.3,102.6 349.5,103.5 351.0,104.0"/>
<path d="M53.5,103.2 C55.9,102.9 63.2,102.3 68.0,101.2 C72.8,100.0 77.7,98.1 82.0,96.5 C86.3,94.8 90.3,92.7 94.0,91.4 C97.7,90.0 100.7,89.1 104.0,88.5 C107.3,87.8 110.3,87.8 114.0,87.8 C117.7,87.8 121.5,88.2 126.0,88.5 C130.5,88.7 136.5,89.0 141.0,89.2 C145.5,89.3 147.3,89.1 153.0,89.2 C158.7,89.2 167.2,89.2 175.0,89.7 C182.8,90.1 191.7,91.2 200.0,91.7 C208.3,92.1 217.6,92.3 224.8,92.5 C232.0,92.6 235.5,92.0 243.0,92.5 C250.5,92.9 260.5,94.0 270.0,95.2 C279.5,96.3 292.5,97.9 300.0,99.2 C307.5,100.4 310.5,101.3 315.0,102.7 C319.5,104.0 323.5,105.8 326.8,107.1 C330.1,108.4 332.3,109.5 335.0,110.6 C337.7,111.7 340.3,112.8 343.0,113.6 C345.7,114.5 349.7,115.3 351.0,115.6"/>
<path d="M53.5,113.9 C55.9,113.4 63.2,112.1 68.0,110.7 C72.8,109.2 77.2,107.5 82.0,105.2 C86.8,102.8 92.2,99.3 97.0,96.7 C101.8,94.0 107.0,91.0 111.0,89.2 C115.0,87.4 117.5,87.4 120.7,85.9 C123.9,84.3 126.5,81.9 129.9,79.7 C133.3,77.4 137.5,74.2 141.1,72.6 C144.7,70.9 148.2,70.5 151.3,70.0 C154.5,69.4 156.1,69.5 160.0,69.4 C163.9,69.2 170.0,69.3 175.0,69.0 C180.0,68.6 184.7,68.6 190.0,67.5 C195.3,66.3 200.9,64.0 206.7,61.9 C212.5,59.9 218.8,56.7 224.8,54.9 C230.9,53.2 235.5,52.4 243.0,51.6 C250.5,50.9 260.5,49.9 270.0,50.1 C279.5,50.4 290.8,51.6 300.0,53.1 C309.2,54.6 316.5,56.8 325.0,59.1 C333.5,61.5 346.7,65.7 351.0,67.0"/>
<path d="M53.5,62.3 C56.2,62.4 63.9,62.3 70.0,62.6 C76.1,63.0 83.3,64.4 90.0,64.5 C96.7,64.5 103.3,64.0 110.0,63.1 C116.7,62.3 123.3,60.6 130.0,59.1 C136.7,57.7 143.3,55.6 150.0,54.6 C156.7,53.7 163.4,53.4 170.0,53.6 C176.6,53.9 183.5,54.9 189.6,56.2 C195.7,57.6 200.8,59.7 206.7,61.9 C212.6,64.2 218.8,69.0 224.8,70.0 C230.9,71.0 236.3,65.6 243.0,68.0 C249.7,70.3 258.8,79.0 265.0,84.2 C271.2,89.4 275.8,95.4 280.0,99.2 C284.2,103.0 285.0,105.5 290.0,107.0 C295.0,108.4 303.3,107.4 310.0,107.6 C316.7,107.7 323.2,107.6 330.0,107.9 C336.8,108.1 347.5,108.6 351.0,108.8"/>
<path d="M53.5,117.9 C55.4,117.5 61.4,116.9 65.0,115.7 C68.6,114.4 72.2,112.0 75.0,110.2 C77.8,108.3 79.3,106.7 82.0,104.7 C84.7,102.6 87.8,99.8 91.0,98.0 C94.2,96.1 97.7,94.5 101.0,93.6 C104.3,92.6 106.8,92.6 111.0,92.2 C115.2,91.7 121.0,91.0 126.0,90.7 C131.0,90.3 136.5,90.0 141.0,90.0 C145.5,89.9 147.3,89.8 153.0,90.2 C158.7,90.5 167.2,91.8 175.0,92.2 C182.8,92.5 191.7,92.4 200.0,92.5 C208.3,92.5 217.6,92.5 224.8,92.6 C232.0,92.6 235.5,92.3 243.0,92.6 C250.5,92.8 262.2,93.1 270.0,94.2 C277.8,95.2 284.2,97.7 290.0,99.2 C295.8,100.7 300.3,101.7 305.0,103.2 C309.7,104.6 313.6,106.1 318.0,107.7 C322.4,109.2 327.7,110.7 331.6,112.2 C335.5,113.8 338.0,115.7 341.2,117.1 C344.4,118.4 349.4,119.8 351.0,120.3"/>
<path d="M53.5,115.5 C55.9,115.2 63.2,114.7 68.0,113.5 C72.8,112.3 77.2,110.0 82.0,108.4 C86.8,106.8 92.2,105.1 97.0,103.8 C101.8,102.4 106.2,101.3 111.0,100.2 C115.8,99.0 121.0,97.4 126.0,96.7 C131.0,95.9 136.5,95.9 141.0,95.7 C145.5,95.4 147.3,95.0 153.0,95.4 C158.7,95.7 168.8,96.8 175.0,97.6 C181.2,98.3 184.2,98.8 190.0,99.7 C195.8,100.5 204.2,101.8 210.0,102.7 C215.8,103.5 219.3,104.7 224.8,104.9 C230.3,105.0 235.5,103.9 243.0,103.4 C250.5,102.8 261.8,101.6 270.0,101.7 C278.2,101.7 286.2,102.7 292.0,103.7 C297.8,104.7 300.3,105.9 305.0,107.7 C309.7,109.4 315.0,112.0 320.0,114.2 C325.0,116.3 329.8,118.8 335.0,120.7 C340.2,122.5 348.3,124.4 351.0,125.2"/>
<path d="M53.5,120.1 C55.9,119.7 63.2,119.3 68.0,117.9 C72.8,116.4 77.2,113.4 82.0,111.3 C86.8,109.2 92.2,107.0 97.0,105.2 C101.8,103.5 106.2,102.1 111.0,100.9 C115.8,99.6 121.0,98.4 126.0,98.0 C131.0,97.5 136.5,97.8 141.0,98.0 C145.5,98.1 147.3,98.3 153.0,98.7 C158.7,99.0 167.2,99.4 175.0,100.2 C182.8,100.9 191.7,102.5 200.0,103.4 C208.3,104.3 217.6,105.2 224.8,105.6 C232.0,105.9 236.8,105.8 243.0,105.5 C249.2,105.1 255.5,103.9 262.0,103.7 C268.5,103.4 277.0,103.7 282.0,104.2 C287.0,104.7 289.3,105.8 292.0,106.7 C294.7,107.5 294.5,108.1 298.0,109.2 C301.5,110.2 307.6,111.0 312.8,112.8 C318.0,114.5 324.7,117.7 329.3,119.4 C333.9,121.0 336.6,121.6 340.2,122.7 C343.8,123.7 349.2,125.0 351.0,125.5"/>
<path d="M53.5,125.9 C55.9,125.4 63.2,124.4 68.0,123.2 C72.8,121.9 77.2,120.7 82.0,118.7 C86.8,116.7 92.2,113.5 97.0,111.2 C101.8,108.8 106.2,106.3 111.0,104.6 C115.8,102.8 121.0,101.5 126.0,100.9 C131.0,100.2 136.5,100.7 141.0,100.9 C145.5,101.0 147.3,101.1 153.0,101.6 C158.7,102.0 167.2,103.1 175.0,103.7 C182.8,104.2 191.7,104.8 200.0,105.2 C208.3,105.5 217.6,106.0 224.8,105.6 C232.0,105.1 235.5,103.6 243.0,102.7 C250.5,101.8 261.0,100.1 270.0,100.2 C279.0,100.2 290.0,101.9 297.0,103.2 C304.0,104.4 307.6,106.2 311.8,107.7 C316.0,109.2 318.1,110.7 322.0,112.2 C325.9,113.6 330.2,115.0 335.0,116.2 C339.8,117.3 348.3,118.4 351.0,118.9"/>
<path d="M53.5,67.0 C57.9,66.9 70.6,66.6 80.0,66.2 C89.4,65.7 101.7,65.0 110.0,64.2 C118.3,63.3 123.3,62.1 130.0,61.1 C136.7,60.2 142.7,59.3 150.0,58.6 C157.3,58.0 167.5,57.2 174.0,57.4 C180.5,57.5 184.2,58.9 189.0,59.5 C193.8,60.2 198.7,60.4 203.0,61.0 C207.3,61.7 211.4,62.8 215.0,63.2 C218.6,63.7 221.4,63.8 224.8,63.6 C228.2,63.5 232.5,63.0 235.5,62.5 C238.5,62.1 237.2,60.6 243.0,61.0 C248.8,61.5 260.5,63.0 270.0,65.2 C279.5,67.3 290.8,70.8 300.0,74.2 C309.2,77.5 316.5,82.1 325.0,85.2 C333.5,88.2 346.7,91.4 351.0,92.7"/>
<path d="M53.5,108.9 C56.2,107.8 63.9,105.0 70.0,102.2 C76.1,99.3 85.0,94.5 90.0,92.0 C95.0,89.4 96.8,88.7 100.2,86.9 C103.6,85.0 107.0,82.8 110.4,80.8 C113.8,78.7 117.3,76.6 120.7,74.6 C124.1,72.5 127.5,70.5 130.9,68.5 C134.3,66.4 137.7,64.0 141.0,62.1 C144.3,60.3 147.8,58.8 151.0,57.6 C154.2,56.5 156.0,56.0 160.0,55.1 C164.0,54.3 170.0,53.1 175.0,52.6 C180.0,52.1 185.0,52.1 190.0,52.1 C195.0,52.2 199.2,52.8 205.0,53.1 C210.8,53.5 218.5,54.7 224.8,54.5 C231.1,54.4 235.5,52.7 243.0,52.1 C250.5,51.6 260.5,50.8 270.0,51.1 C279.5,51.5 290.8,52.5 300.0,54.1 C309.2,55.8 316.5,59.0 325.0,61.1 C333.5,63.3 346.7,66.0 351.0,67.0"/>
<path d="M53.5,118.7 C56.2,117.9 64.8,115.2 70.0,113.7 C75.2,112.1 80.0,110.9 85.0,109.2 C90.0,107.4 95.0,105.6 100.0,103.2 C105.0,100.7 110.0,97.9 115.0,94.7 C120.0,91.4 125.0,87.5 130.0,83.7 C135.0,79.8 140.0,75.3 145.0,71.7 C150.0,68.0 155.0,64.0 160.0,61.6 C165.0,59.3 170.0,58.4 175.0,57.4 C180.0,56.3 185.0,55.6 190.0,55.1 C195.0,54.7 199.2,54.8 205.0,54.6 C210.8,54.5 218.5,54.4 224.8,54.5 C231.1,54.7 235.5,55.5 243.0,55.6 C250.5,55.8 260.5,54.6 270.0,55.1 C279.5,55.7 290.8,57.6 300.0,59.1 C309.2,60.6 316.5,62.5 325.0,64.2 C333.5,65.8 346.7,68.1 351.0,68.9"/>
<path d="M53.5,171.9 C55.9,171.2 62.8,169.6 67.6,167.8 C72.4,166.1 77.3,163.9 82.2,161.3 C87.1,158.8 91.9,155.5 96.8,152.6 C101.7,149.6 106.5,146.4 111.4,143.8 C116.3,141.1 121.1,138.3 126.0,136.5 C130.9,134.6 135.8,133.8 140.6,132.8 C145.4,131.9 149.7,131.2 155.0,131.0 C160.3,130.7 166.8,130.9 172.6,131.2 C178.4,131.6 184.2,132.5 190.0,133.1 C195.8,133.6 201.8,134.3 207.6,134.5 C213.4,134.6 219.4,134.1 224.8,134.0 C230.2,133.8 234.7,133.5 240.0,133.6 C245.3,133.6 251.2,133.6 256.8,134.5 C262.4,135.3 268.0,136.7 273.6,138.7 C279.2,140.6 284.8,143.2 290.4,146.2 C296.0,149.1 301.5,153.2 307.1,156.2 C312.7,159.3 318.3,162.3 323.9,164.7 C329.5,167.0 336.2,169.3 340.7,170.6 C345.2,171.8 349.3,171.9 351.0,172.2"/>
<path d="M53.5,171.9 C55.9,170.9 62.8,168.6 67.6,165.7 C72.4,162.7 77.3,157.9 82.2,154.1 C87.1,150.2 91.9,146.0 96.8,142.3 C101.7,138.7 106.5,135.3 111.4,132.2 C116.3,129.0 121.1,125.8 126.0,123.4 C130.9,120.9 136.1,119.0 140.6,117.6 C145.1,116.1 148.1,115.4 153.0,114.6 C157.9,113.7 163.8,113.1 170.0,112.7 C176.2,112.2 183.7,112.3 190.0,112.2 C196.3,112.0 201.8,111.7 207.6,111.7 C213.4,111.6 219.4,111.4 224.8,111.9 C230.2,112.3 234.7,113.0 240.0,114.2 C245.3,115.5 251.2,117.4 256.8,119.4 C262.4,121.3 268.0,123.3 273.6,126.1 C279.2,128.9 284.8,132.5 290.4,136.2 C296.0,139.8 302.1,144.9 307.1,147.8 C312.1,150.8 316.1,152.5 320.6,153.8 C325.1,155.0 328.9,154.9 334.0,155.5 C339.1,156.0 348.2,156.8 351.0,157.1"/>
<path d="M53.5,157.3 C55.9,156.8 62.8,155.3 67.6,154.1 C72.4,152.8 77.3,151.9 82.2,149.7 C87.1,147.4 91.9,144.0 96.8,140.8 C101.7,137.7 106.5,134.1 111.4,130.7 C116.3,127.2 121.1,123.6 126.0,120.5 C130.9,117.3 136.1,114.0 140.6,111.7 C145.1,109.3 148.9,107.7 153.0,106.6 C157.1,105.4 160.5,105.0 165.0,104.7 C169.5,104.3 175.0,104.4 180.0,104.5 C185.0,104.5 190.0,104.8 195.0,105.0 C200.0,105.1 205.0,105.5 210.0,105.5 C215.0,105.4 219.8,104.5 224.8,104.9 C229.8,105.2 233.3,106.3 240.0,107.6 C246.7,108.9 258.2,110.1 265.2,112.7 C272.2,115.2 276.4,118.7 282.0,122.7 C287.6,126.6 294.1,132.2 298.8,136.2 C303.6,140.1 306.3,143.5 310.5,146.2 C314.7,148.8 317.1,150.2 323.9,152.1 C330.6,153.9 346.5,156.3 351.0,157.1"/>
<path d="M53.5,157.3 C55.9,156.5 62.8,154.3 67.6,152.6 C72.4,150.8 77.3,149.2 82.2,146.8 C87.1,144.3 91.9,140.9 96.8,138.0 C101.7,135.0 106.5,131.8 111.4,129.2 C116.3,126.5 121.1,124.0 126.0,121.9 C130.9,119.7 136.1,117.3 140.6,116.1 C145.1,114.8 148.1,114.9 153.0,114.6 C157.9,114.2 163.8,114.3 170.0,114.2 C176.2,114.0 183.7,113.8 190.0,113.5 C196.3,113.1 201.8,112.4 207.6,112.2 C213.4,111.9 219.4,112.3 224.8,111.9 C230.2,111.4 234.8,108.9 240.0,109.2 C245.2,109.6 250.4,111.9 256.0,114.2 C261.6,116.4 266.5,118.7 273.6,122.7 C280.7,126.6 291.2,133.0 298.8,137.8 C306.4,142.5 311.9,145.9 318.9,151.2 C325.9,156.6 335.3,166.2 340.7,169.7 C346.1,173.1 349.3,171.8 351.0,172.2"/>
</g>
<g stroke="#d4483a" stroke-width="2.0">
<path d="M53.5,62.3 C55.9,62.4 63.2,62.6 68.0,63.0 C72.8,63.4 77.2,64.6 82.0,64.9 C86.8,65.2 92.2,65.2 97.0,64.9 C101.8,64.6 106.2,63.8 111.0,63.0 C115.8,62.2 121.0,61.3 126.0,60.1 C131.0,58.9 136.7,57.4 141.0,56.0 C145.3,54.6 148.3,53.1 152.0,52.0 C155.7,50.9 159.0,49.8 163.0,49.3 C167.0,48.8 171.5,49.1 176.0,49.3 C180.5,49.5 185.2,49.8 190.0,50.3 C194.8,50.8 199.2,51.8 205.0,52.6 C210.8,53.4 218.5,55.4 224.8,55.2 C231.1,55.1 235.5,52.6 243.0,51.7 C250.5,50.8 260.5,50.0 270.0,50.0 C279.5,50.0 290.8,50.8 300.0,52.0 C309.2,53.2 316.5,55.3 325.0,57.0 C333.5,58.7 346.7,61.4 351.0,62.3"/>
<path d="M53.5,68.9 C57.1,68.9 68.9,68.9 75.0,68.9 C81.1,68.9 85.2,68.5 90.0,68.9 C94.8,69.3 100.0,70.2 104.0,71.1 C108.0,71.9 110.3,72.8 114.0,74.0 C117.7,75.2 122.0,77.0 126.0,78.4 C130.0,79.9 133.5,81.5 138.0,82.7 C142.5,83.9 148.2,85.0 153.0,85.7 C157.8,86.4 162.3,87.1 167.0,87.0 C171.7,86.9 176.3,86.0 181.0,85.0 C185.7,84.0 190.2,82.4 195.0,81.0 C199.8,79.6 205.0,78.1 210.0,76.5 C215.0,74.9 219.3,70.6 224.8,71.5 C230.3,72.4 236.8,78.6 243.0,82.0 C249.2,85.4 255.0,89.0 262.0,92.0 C269.0,95.0 277.8,98.0 285.0,100.0 C292.2,102.0 299.2,102.9 305.0,104.0 C310.8,105.1 315.5,105.8 320.0,106.5 C324.5,107.2 328.3,107.7 332.0,108.5 C335.7,109.3 338.8,110.6 342.0,111.5 C345.2,112.4 349.5,113.7 351.0,114.1"/>
<path d="M53.5,68.9 C58.2,68.8 74.8,68.3 82.0,68.1 C89.2,67.8 92.2,67.8 97.0,67.4 C101.8,67.1 106.2,66.6 111.0,66.0 C115.8,65.4 121.0,64.7 126.0,63.8 C131.0,62.9 136.5,61.8 141.0,60.8 C145.5,59.8 147.3,58.7 153.0,58.0 C158.7,57.3 166.7,56.8 175.0,56.5 C183.3,56.2 194.7,56.4 203.0,56.3 C211.3,56.2 218.1,55.8 224.8,56.0 C231.5,56.2 235.5,57.2 243.0,57.5 C250.5,57.8 260.5,57.2 270.0,58.0 C279.5,58.8 290.8,60.7 300.0,62.0 C309.2,63.3 316.5,64.8 325.0,66.0 C333.5,67.2 346.7,68.4 351.0,68.9"/>
<path d="M53.5,92.7 C55.9,92.2 63.2,91.0 68.0,90.0 C72.8,89.0 77.2,87.9 82.0,86.4 C86.8,85.0 92.2,83.1 97.0,81.3 C101.8,79.5 107.3,76.9 111.0,75.4 C114.7,73.9 115.3,74.0 119.0,72.5 C122.7,71.0 127.8,68.5 133.0,66.7 C138.2,64.9 143.0,62.5 150.0,61.5 C157.0,60.5 167.5,60.8 175.0,60.5 C182.5,60.2 189.2,60.2 195.0,60.0 C200.8,59.8 205.0,59.3 210.0,59.0 C215.0,58.7 219.3,57.7 224.8,58.2 C230.3,58.7 235.5,60.0 243.0,62.0 C250.5,64.0 260.5,66.7 270.0,70.0 C279.5,73.3 290.8,77.7 300.0,82.0 C309.2,86.3 318.0,92.7 325.0,96.0 C332.0,99.3 337.7,100.7 342.0,102.0 C346.3,103.3 349.5,103.7 351.0,104.0"/>
<path d="M53.5,104.1 C55.9,103.8 63.2,103.1 68.0,102.0 C72.8,100.9 77.7,98.9 82.0,97.3 C86.3,95.7 90.3,93.5 94.0,92.2 C97.7,90.9 100.7,89.9 104.0,89.3 C107.3,88.7 110.3,88.6 114.0,88.6 C117.7,88.6 121.5,89.1 126.0,89.3 C130.5,89.5 136.5,89.9 141.0,90.0 C145.5,90.1 147.3,89.9 153.0,90.0 C158.7,90.1 167.2,90.1 175.0,90.5 C182.8,90.9 191.7,92.0 200.0,92.5 C208.3,93.0 217.6,93.2 224.8,93.3 C232.0,93.4 235.5,92.8 243.0,93.3 C250.5,93.8 260.5,94.9 270.0,96.0 C279.5,97.1 292.5,98.8 300.0,100.0 C307.5,101.2 310.5,102.2 315.0,103.5 C319.5,104.8 323.5,106.6 326.8,107.8 C330.1,109.0 332.3,109.7 335.0,110.5 C337.7,111.3 340.3,112.2 343.0,112.8 C345.7,113.4 349.7,113.9 351.0,114.1"/>
<path d="M53.5,113.9 C55.9,113.5 63.2,112.8 68.0,111.5 C72.8,110.2 77.2,108.3 82.0,106.0 C86.8,103.7 92.2,100.2 97.0,97.5 C101.8,94.8 107.0,91.8 111.0,90.0 C115.0,88.2 117.5,88.3 120.7,86.7 C123.9,85.1 126.5,82.7 129.9,80.5 C133.3,78.3 137.5,75.0 141.1,73.4 C144.7,71.8 148.2,71.3 151.3,70.8 C154.5,70.3 156.1,70.4 160.0,70.2 C163.9,70.0 170.0,70.1 175.0,69.8 C180.0,69.5 184.7,69.5 190.0,68.3 C195.3,67.1 200.9,64.9 206.7,62.8 C212.5,60.7 218.8,57.5 224.8,55.8 C230.9,54.1 235.5,53.3 243.0,52.5 C250.5,51.7 260.5,50.8 270.0,51.0 C279.5,51.2 290.8,52.5 300.0,54.0 C309.2,55.5 316.5,57.8 325.0,60.0 C333.5,62.2 346.7,65.8 351.0,67.0"/>
<path d="M53.5,62.3 C56.2,62.5 63.9,63.0 70.0,63.5 C76.1,64.0 83.3,65.2 90.0,65.3 C96.7,65.4 103.3,64.9 110.0,64.0 C116.7,63.1 123.3,61.4 130.0,60.0 C136.7,58.6 143.3,56.4 150.0,55.5 C156.7,54.6 163.4,54.2 170.0,54.5 C176.6,54.8 183.5,55.7 189.6,57.1 C195.7,58.5 200.8,60.5 206.7,62.8 C212.6,65.1 218.8,69.8 224.8,70.8 C230.9,71.8 236.3,66.4 243.0,68.8 C249.7,71.2 258.8,79.8 265.0,85.0 C271.2,90.2 275.8,96.2 280.0,100.0 C284.2,103.8 285.0,106.4 290.0,107.8 C295.0,109.2 303.3,108.2 310.0,108.4 C316.7,108.6 323.2,108.6 330.0,108.7 C336.8,108.8 347.5,108.8 351.0,108.8"/>
<path d="M53.5,118.7 C55.4,118.3 61.4,117.8 65.0,116.5 C68.6,115.2 72.2,112.8 75.0,111.0 C77.8,109.2 79.3,107.5 82.0,105.5 C84.7,103.5 87.8,100.6 91.0,98.8 C94.2,97.0 97.7,95.4 101.0,94.4 C104.3,93.4 106.8,93.5 111.0,93.0 C115.2,92.5 121.0,91.9 126.0,91.5 C131.0,91.1 136.5,90.9 141.0,90.8 C145.5,90.7 147.3,90.6 153.0,91.0 C158.7,91.4 167.2,92.6 175.0,93.0 C182.8,93.4 191.7,93.2 200.0,93.3 C208.3,93.4 217.6,93.4 224.8,93.4 C232.0,93.4 235.5,93.1 243.0,93.4 C250.5,93.7 262.2,93.9 270.0,95.0 C277.8,96.1 284.2,98.5 290.0,100.0 C295.8,101.5 300.3,102.6 305.0,104.0 C309.7,105.4 313.6,107.1 318.0,108.5 C322.4,109.9 327.7,111.2 331.6,112.5 C335.5,113.8 338.0,115.4 341.2,116.5 C344.4,117.6 349.4,118.5 351.0,118.9"/>
<path d="M53.5,113.9 C55.9,113.8 63.2,113.8 68.0,113.0 C72.8,112.2 77.2,110.4 82.0,109.0 C86.8,107.6 92.2,105.9 97.0,104.6 C101.8,103.3 106.2,102.2 111.0,101.0 C115.8,99.8 121.0,98.2 126.0,97.5 C131.0,96.8 136.5,96.7 141.0,96.5 C145.5,96.3 147.3,95.9 153.0,96.2 C158.7,96.5 168.8,97.7 175.0,98.4 C181.2,99.1 184.2,99.7 190.0,100.5 C195.8,101.3 204.2,102.6 210.0,103.5 C215.8,104.4 219.3,105.6 224.8,105.7 C230.3,105.8 235.5,104.7 243.0,104.2 C250.5,103.7 261.8,102.5 270.0,102.5 C278.2,102.5 286.2,103.5 292.0,104.5 C297.8,105.5 300.3,106.8 305.0,108.5 C309.7,110.2 315.0,112.8 320.0,115.0 C325.0,117.2 329.8,119.7 335.0,121.5 C340.2,123.3 348.3,125.2 351.0,126.0"/>
<path d="M53.5,118.7 C55.9,118.5 63.2,118.6 68.0,117.5 C72.8,116.4 77.2,113.8 82.0,111.9 C86.8,110.0 92.2,107.8 97.0,106.1 C101.8,104.4 106.2,102.9 111.0,101.7 C115.8,100.5 121.0,99.3 126.0,98.8 C131.0,98.3 136.5,98.7 141.0,98.8 C145.5,98.9 147.3,99.1 153.0,99.5 C158.7,99.9 167.2,100.2 175.0,101.0 C182.8,101.8 191.7,103.3 200.0,104.2 C208.3,105.1 217.6,106.1 224.8,106.4 C232.0,106.8 236.8,106.6 243.0,106.3 C249.2,106.0 255.5,104.7 262.0,104.5 C268.5,104.3 277.0,104.5 282.0,105.0 C287.0,105.5 289.3,106.7 292.0,107.5 C294.7,108.3 294.5,109.0 298.0,110.0 C301.5,111.0 307.6,111.9 312.8,113.6 C318.0,115.3 324.7,118.5 329.3,120.2 C333.9,121.9 336.6,122.5 340.2,123.5 C343.8,124.5 349.2,125.8 351.0,126.3"/>
<path d="M53.5,125.9 C55.9,125.6 63.2,125.1 68.0,124.0 C72.8,122.9 77.2,121.5 82.0,119.5 C86.8,117.5 92.2,114.3 97.0,112.0 C101.8,109.7 106.2,107.1 111.0,105.4 C115.8,103.7 121.0,102.3 126.0,101.7 C131.0,101.1 136.5,101.6 141.0,101.7 C145.5,101.8 147.3,101.9 153.0,102.4 C158.7,102.9 167.2,103.9 175.0,104.5 C182.8,105.1 191.7,105.7 200.0,106.0 C208.3,106.3 217.6,106.8 224.8,106.4 C232.0,106.0 235.5,104.4 243.0,103.5 C250.5,102.6 261.0,100.9 270.0,101.0 C279.0,101.1 290.0,102.8 297.0,104.0 C304.0,105.2 307.6,107.0 311.8,108.5 C316.0,110.0 318.1,111.6 322.0,113.0 C325.9,114.4 330.2,116.0 335.0,117.0 C339.8,118.0 348.3,118.6 351.0,118.9"/>
<path d="M53.5,67.0 C57.9,67.0 70.6,67.3 80.0,67.0 C89.4,66.7 101.7,65.8 110.0,65.0 C118.3,64.2 123.3,62.9 130.0,62.0 C136.7,61.1 142.7,60.1 150.0,59.5 C157.3,58.9 167.5,58.1 174.0,58.2 C180.5,58.4 184.2,59.8 189.0,60.4 C193.8,61.0 198.7,61.3 203.0,61.9 C207.3,62.5 211.4,63.7 215.0,64.1 C218.6,64.5 221.4,64.6 224.8,64.5 C228.2,64.4 232.5,63.8 235.5,63.4 C238.5,63.0 237.2,61.5 243.0,61.9 C248.8,62.3 260.5,63.8 270.0,66.0 C279.5,68.2 290.8,71.7 300.0,75.0 C309.2,78.3 316.5,83.0 325.0,86.0 C333.5,89.0 346.7,91.6 351.0,92.7"/>
<path d="M53.5,108.9 C56.2,107.9 63.9,105.7 70.0,103.0 C76.1,100.3 85.0,95.3 90.0,92.8 C95.0,90.2 96.8,89.6 100.2,87.7 C103.6,85.8 107.0,83.6 110.4,81.6 C113.8,79.5 117.3,77.5 120.7,75.4 C124.1,73.4 127.5,71.4 130.9,69.3 C134.3,67.2 137.7,64.8 141.0,63.0 C144.3,61.2 147.8,59.7 151.0,58.5 C154.2,57.3 156.0,56.8 160.0,56.0 C164.0,55.2 170.0,54.0 175.0,53.5 C180.0,53.0 185.0,52.9 190.0,53.0 C195.0,53.1 199.2,53.6 205.0,54.0 C210.8,54.4 218.5,55.6 224.8,55.4 C231.1,55.2 235.5,53.6 243.0,53.0 C250.5,52.4 260.5,51.7 270.0,52.0 C279.5,52.3 290.8,53.3 300.0,55.0 C309.2,56.7 316.5,60.0 325.0,62.0 C333.5,64.0 346.7,66.2 351.0,67.0"/>
<path d="M53.5,118.7 C56.2,118.0 64.8,116.0 70.0,114.5 C75.2,113.0 80.0,111.8 85.0,110.0 C90.0,108.2 95.0,106.4 100.0,104.0 C105.0,101.6 110.0,98.8 115.0,95.5 C120.0,92.2 125.0,88.3 130.0,84.5 C135.0,80.7 140.0,76.2 145.0,72.5 C150.0,68.8 155.0,64.9 160.0,62.5 C165.0,60.1 170.0,59.3 175.0,58.2 C180.0,57.1 185.0,56.5 190.0,56.0 C195.0,55.5 199.2,55.6 205.0,55.5 C210.8,55.4 218.5,55.2 224.8,55.4 C231.1,55.6 235.5,56.4 243.0,56.5 C250.5,56.6 260.5,55.4 270.0,56.0 C279.5,56.6 290.8,58.5 300.0,60.0 C309.2,61.5 316.5,63.5 325.0,65.0 C333.5,66.5 346.7,68.2 351.0,68.9"/>
<path d="M53.5,171.9 C55.9,171.4 62.8,170.3 67.6,168.7 C72.4,167.1 77.3,164.8 82.2,162.2 C87.1,159.6 91.9,156.3 96.8,153.4 C101.7,150.5 106.5,147.3 111.4,144.6 C116.3,141.9 121.1,139.1 126.0,137.3 C130.9,135.5 135.8,134.6 140.6,133.7 C145.4,132.8 149.7,132.1 155.0,131.8 C160.3,131.5 166.8,131.8 172.6,132.1 C178.4,132.4 184.2,133.4 190.0,133.9 C195.8,134.4 201.8,135.2 207.6,135.3 C213.4,135.5 219.4,135.0 224.8,134.8 C230.2,134.7 234.7,134.3 240.0,134.4 C245.3,134.5 251.2,134.5 256.8,135.3 C262.4,136.2 268.0,137.6 273.6,139.5 C279.2,141.4 284.8,144.1 290.4,147.0 C296.0,149.9 301.5,154.0 307.1,157.1 C312.7,160.2 318.3,163.1 323.9,165.5 C329.5,167.9 336.2,170.3 340.7,171.4 C345.2,172.5 349.3,172.1 351.0,172.2"/>
<path d="M53.5,171.9 C55.9,171.0 62.8,169.3 67.6,166.5 C72.4,163.7 77.3,158.8 82.2,154.9 C87.1,151.0 91.9,146.8 96.8,143.2 C101.7,139.5 106.5,136.2 111.4,133.0 C116.3,129.8 121.1,126.6 126.0,124.2 C130.9,121.8 136.1,119.9 140.6,118.4 C145.1,116.9 148.1,116.2 153.0,115.4 C157.9,114.6 163.8,113.9 170.0,113.5 C176.2,113.1 183.7,113.2 190.0,113.0 C196.3,112.8 201.8,112.5 207.6,112.5 C213.4,112.5 219.4,112.3 224.8,112.7 C230.2,113.1 234.7,113.8 240.0,115.1 C245.3,116.3 251.2,118.2 256.8,120.2 C262.4,122.2 268.0,124.1 273.6,126.9 C279.2,129.7 284.8,133.4 290.4,137.0 C296.0,140.6 302.1,145.8 307.1,148.7 C312.1,151.6 316.1,153.3 320.6,154.6 C325.1,155.9 328.9,155.9 334.0,156.3 C339.1,156.7 348.2,157.0 351.0,157.1"/>
<path d="M53.5,157.3 C55.9,156.9 62.8,156.0 67.6,154.9 C72.4,153.8 77.3,152.7 82.2,150.5 C87.1,148.3 91.9,144.9 96.8,141.7 C101.7,138.5 106.5,134.9 111.4,131.5 C116.3,128.1 121.1,124.5 126.0,121.3 C130.9,118.1 136.1,114.8 140.6,112.5 C145.1,110.2 148.9,108.6 153.0,107.4 C157.1,106.2 160.5,105.8 165.0,105.5 C169.5,105.2 175.0,105.2 180.0,105.3 C185.0,105.3 190.0,105.6 195.0,105.8 C200.0,106.0 205.0,106.3 210.0,106.3 C215.0,106.3 219.8,105.3 224.8,105.7 C229.8,106.1 233.3,107.1 240.0,108.4 C246.7,109.7 258.2,111.0 265.2,113.5 C272.2,116.0 276.4,119.6 282.0,123.5 C287.6,127.4 294.1,133.1 298.8,137.0 C303.6,140.9 306.3,144.3 310.5,147.0 C314.7,149.7 317.1,151.2 323.9,152.9 C330.6,154.6 346.5,156.4 351.0,157.1"/>
<path d="M53.5,157.3 C55.9,156.7 62.8,155.0 67.6,153.4 C72.4,151.8 77.3,150.0 82.2,147.6 C87.1,145.2 91.9,141.7 96.8,138.8 C101.7,135.9 106.5,132.7 111.4,130.0 C116.3,127.3 121.1,124.9 126.0,122.7 C130.9,120.5 136.1,118.1 140.6,116.9 C145.1,115.7 148.1,115.7 153.0,115.4 C157.9,115.1 163.8,115.2 170.0,115.0 C176.2,114.8 183.7,114.6 190.0,114.3 C196.3,114.0 201.8,113.3 207.6,113.0 C213.4,112.7 219.4,113.2 224.8,112.7 C230.2,112.2 234.8,109.7 240.0,110.1 C245.2,110.5 250.4,112.8 256.0,115.0 C261.6,117.2 266.5,119.6 273.6,123.5 C280.7,127.4 291.2,133.8 298.8,138.6 C306.4,143.4 311.9,146.8 318.9,152.1 C325.9,157.4 335.3,167.2 340.7,170.5 C346.1,173.8 349.3,171.9 351.0,172.2"/>
</g>
</g>
<g clip-path="url(#cl)" fill="none" stroke-width="2.0" stroke-linecap="round">
<path stroke="#19607f" d="M53.5,194.0 C57.1,194.2 67.7,194.2 74.9,195.1 C82.1,195.9 90.1,197.6 96.8,199.1 C103.5,200.6 110.5,202.4 115.0,203.8 C119.5,205.2 120.9,206.0 123.8,207.3 C126.7,208.6 129.6,209.9 132.5,211.6 C135.4,213.3 138.7,215.5 141.3,217.3 C143.9,219.1 146.6,220.8 148.3,222.2 C150.0,223.6 150.6,224.3 151.5,225.6 C152.4,226.9 152.6,228.6 153.5,229.8 C154.4,231.0 155.4,232.0 157.0,232.6 C158.6,233.2 160.7,233.1 163.2,233.6 C165.7,234.1 166.8,233.8 171.9,235.3 C177.0,236.8 187.2,240.6 193.8,242.6 C200.4,244.6 206.1,246.4 211.3,247.4 C216.5,248.4 220.2,248.7 224.8,248.7 C229.4,248.7 234.8,247.9 238.7,247.2 C242.6,246.5 245.4,245.6 248.0,244.5 C250.6,243.4 252.3,242.1 254.0,240.5 C255.7,238.9 256.9,237.1 258.0,235.0 C259.1,232.9 259.6,230.6 260.5,228.0 C261.4,225.4 261.8,222.4 263.4,219.7 C265.0,216.9 266.9,213.9 270.0,211.5 C273.1,209.1 277.2,207.3 282.0,205.3 C286.8,203.3 293.2,201.0 298.8,199.4 C304.4,197.8 309.9,196.8 315.5,196.0 C321.1,195.2 326.4,194.6 332.3,194.3 C338.2,194.0 347.9,194.1 351.0,194.0"/>
<path stroke="#8fc6e6" d="M53.5,190.3 C57.1,190.6 67.7,191.0 74.9,191.8 C82.1,192.7 90.1,193.9 96.8,195.4 C103.5,196.9 110.5,199.3 115.0,200.7 C119.5,202.1 120.9,202.7 123.8,203.8 C126.7,204.9 129.6,206.1 132.5,207.3 C135.4,208.5 138.4,209.6 141.3,210.8 C144.2,212.0 147.1,213.4 150.0,214.3 C152.9,215.2 155.9,215.6 158.8,216.0 C161.7,216.4 164.4,216.7 167.6,216.9 C170.8,217.1 175.3,216.8 178.0,217.3 C180.7,217.8 182.1,218.7 183.5,220.0 C184.9,221.3 185.5,223.3 186.5,225.0 C187.5,226.7 188.2,228.7 189.5,230.1 C190.8,231.5 191.8,232.3 194.0,233.5 C196.2,234.7 199.7,235.7 203.0,237.0 C206.3,238.3 210.4,240.2 214.0,241.3 C217.6,242.5 221.3,243.5 224.8,243.9 C228.3,244.3 232.0,244.0 235.0,243.6 C238.0,243.2 240.8,242.3 243.0,241.5 C245.2,240.7 246.6,239.9 248.0,239.0 C249.4,238.1 250.4,237.7 251.5,236.0 C252.6,234.3 253.6,231.3 254.5,229.0 C255.4,226.7 255.8,224.2 257.0,222.0 C258.2,219.8 259.3,218.0 261.5,215.9 C263.7,213.8 265.2,212.0 270.0,209.2 C274.8,206.4 284.2,201.4 290.4,198.9 C296.6,196.4 301.5,195.5 307.1,194.3 C312.7,193.1 316.6,192.2 323.9,191.5 C331.2,190.8 346.5,190.1 351.0,189.8"/>
<path stroke="#f8b310" d="M53.5,187.7 C57.1,187.9 67.7,188.0 74.9,188.9 C82.1,189.8 90.1,191.8 96.8,193.2 C103.5,194.6 110.5,196.4 115.0,197.6 C119.5,198.8 120.9,199.4 123.8,200.3 C126.7,201.2 129.6,202.4 132.5,203.3 C135.4,204.2 138.4,205.0 141.3,205.9 C144.2,206.8 147.1,208.3 150.0,209.0 C152.9,209.7 155.9,210.0 158.8,210.3 C161.7,210.6 164.4,210.4 167.6,210.8 C170.8,211.2 173.8,211.9 178.0,213.0 C182.2,214.1 189.2,216.2 193.0,217.5 C196.8,218.8 198.9,219.7 201.0,221.0 C203.1,222.3 204.2,223.7 205.5,225.4 C206.8,227.1 207.2,229.5 208.5,231.0 C209.8,232.5 211.4,233.5 213.0,234.3 C214.6,235.1 216.0,235.3 218.0,235.6 C220.0,235.9 222.6,235.9 224.8,235.9 C227.0,235.9 229.2,235.7 231.0,235.3 C232.8,234.9 234.2,234.3 235.5,233.4 C236.8,232.5 237.7,231.4 238.7,230.0 C239.7,228.6 240.6,226.6 241.5,225.0 C242.4,223.4 242.6,222.1 244.0,220.5 C245.4,218.9 247.9,217.1 250.0,215.5 C252.1,213.9 252.9,213.2 256.8,211.1 C260.7,209.0 268.0,205.1 273.6,202.7 C279.2,200.3 284.8,198.3 290.4,196.5 C296.0,194.7 301.5,193.1 307.1,191.8 C312.7,190.6 316.6,189.8 323.9,189.0 C331.2,188.2 346.5,187.6 351.0,187.3"/>
<path stroke="#d4483a" d="M53.5,184.9 C57.1,185.1 67.7,185.0 74.9,186.0 C82.1,187.0 90.1,189.5 96.8,191.1 C103.5,192.7 110.5,194.3 115.0,195.4 C119.5,196.5 120.9,196.8 123.8,197.6 C126.7,198.4 129.6,199.4 132.5,200.3 C135.4,201.2 138.4,202.2 141.3,202.9 C144.2,203.6 146.4,204.1 150.0,204.6 C153.6,205.1 158.3,205.3 163.0,206.0 C167.7,206.7 172.3,207.2 178.0,208.5 C183.7,209.8 191.3,212.4 197.0,214.0 C202.7,215.6 207.4,217.2 212.0,218.2 C216.6,219.2 221.0,220.0 224.8,219.8 C228.6,219.6 230.1,218.6 234.9,216.8 C239.8,215.0 248.1,211.7 253.9,209.2 C259.8,206.7 263.9,204.1 270.0,201.6 C276.1,199.1 284.2,196.3 290.4,194.3 C296.6,192.3 301.5,191.1 307.1,189.8 C312.7,188.6 316.6,187.6 323.9,186.8 C331.2,186.0 346.5,185.1 351.0,184.8"/>
</g>
<g clip-path="url(#cr)" fill="none" stroke-linecap="round" stroke-linejoin="round">
<g stroke="#19607f" stroke-width="2.0">
<path d="M378.0,53.8 C380.2,53.9 386.7,54.2 391.0,54.6 C395.3,55.0 399.7,55.5 404.0,56.0 C408.3,56.5 412.6,57.1 417.0,57.3 C421.4,57.5 426.2,58.0 430.6,57.3 C435.1,56.6 439.3,54.5 443.7,53.3 C448.1,52.1 452.8,50.9 456.8,50.0 C460.9,49.1 465.0,48.6 468.0,48.1 C471.0,47.6 471.7,47.0 475.0,46.7 C478.3,46.4 483.6,46.2 488.0,46.1 C492.4,46.0 497.0,45.9 501.4,46.1 C505.8,46.3 510.2,46.8 514.6,47.4 C519.0,48.0 523.3,49.3 527.7,50.0 C532.1,50.7 537.1,51.5 540.8,51.8 C544.4,52.1 545.6,52.0 549.6,52.0 C553.6,52.0 558.9,51.8 564.7,51.6 C570.5,51.5 578.9,51.0 584.4,51.1 C589.9,51.2 593.2,51.2 597.6,52.0 C602.0,52.8 606.3,54.9 610.7,55.9 C615.1,56.9 619.3,57.7 623.8,57.9 C628.3,58.1 632.4,57.5 637.5,57.0 C642.6,56.5 648.4,55.7 654.7,55.0 C661.1,54.3 672.1,53.2 675.6,52.9"/>
<path d="M378.0,59.7 C380.2,59.7 386.7,59.5 391.0,59.9 C395.3,60.3 399.7,61.3 404.0,61.9 C408.3,62.5 412.6,63.1 417.0,63.2 C421.4,63.3 426.2,62.8 430.6,62.5 C435.1,62.2 439.3,61.9 443.7,61.2 C448.1,60.6 452.8,59.6 456.8,58.6 C460.9,57.6 465.0,56.3 468.0,55.0 C471.0,53.7 471.7,52.0 475.0,51.0 C478.3,50.0 483.6,49.3 488.0,49.0 C492.4,48.7 497.0,49.0 501.4,49.4 C505.8,49.8 510.2,50.5 514.6,51.3 C519.0,52.1 523.3,53.3 527.7,54.0 C532.1,54.7 537.1,55.1 540.8,55.3 C544.4,55.5 545.6,55.5 549.6,55.3 C553.6,55.1 558.9,54.3 564.7,54.0 C570.5,53.7 578.9,53.2 584.4,53.3 C589.9,53.4 593.2,53.8 597.6,54.6 C602.0,55.4 606.3,56.8 610.7,57.9 C615.1,59.0 619.3,60.5 623.8,61.2 C628.3,61.9 632.4,62.1 637.5,62.0 C642.6,61.9 648.4,61.2 654.7,60.8 C661.1,60.4 672.1,60.0 675.6,59.8"/>
<path d="M378.0,59.7 C380.2,59.7 386.7,59.5 391.0,59.9 C395.3,60.3 399.7,61.4 404.0,61.9 C408.3,62.4 412.6,63.1 417.0,62.8 C421.4,62.5 426.2,61.0 430.6,60.0 C435.1,59.0 439.3,57.8 443.7,57.0 C448.1,56.2 452.8,55.5 456.8,55.0 C460.9,54.5 462.8,54.4 468.0,54.0 C473.2,53.6 482.4,52.7 488.0,52.6 C493.6,52.5 497.0,53.0 501.4,53.3 C505.8,53.6 510.2,54.1 514.6,54.6 C519.0,55.1 523.3,56.0 527.7,56.5 C532.1,57.0 537.1,57.5 540.8,57.7 C544.4,57.9 545.6,58.1 549.6,57.9 C553.6,57.7 558.9,56.5 564.7,56.6 C570.5,56.7 578.9,57.7 584.4,58.6 C589.9,59.5 593.2,60.6 597.6,61.8 C602.0,63.0 606.3,64.5 610.7,65.8 C615.1,67.1 619.8,68.8 623.8,69.7 C627.8,70.6 629.8,70.7 635.0,71.0 C640.2,71.3 648.2,71.1 655.0,71.3 C661.8,71.5 672.2,71.8 675.6,71.9"/>
<path d="M378.0,71.6 C380.2,71.5 386.7,71.1 391.0,71.1 C395.3,71.1 399.7,71.3 404.0,71.5 C408.3,71.7 412.6,72.0 417.0,72.4 C421.4,72.8 427.2,73.3 430.6,73.7 C434.0,74.1 433.8,74.2 437.1,75.0 C440.4,75.8 446.2,77.2 450.3,78.3 C454.4,79.4 457.9,80.5 462.0,81.5 C466.1,82.5 470.6,83.5 475.0,84.2 C479.4,84.9 483.9,85.5 488.3,85.5 C492.7,85.5 497.0,85.1 501.4,84.2 C505.8,83.3 510.2,81.5 514.6,80.2 C519.0,78.9 523.3,77.6 527.7,76.3 C532.1,75.0 537.1,73.4 540.8,72.5 C544.4,71.6 545.6,70.6 549.6,71.0 C553.6,71.4 558.9,73.2 564.7,75.0 C570.5,76.8 578.9,79.8 584.4,81.5 C589.9,83.2 593.2,83.5 597.6,85.5 C602.0,87.5 606.3,91.1 610.7,93.4 C615.1,95.7 619.4,96.8 623.8,99.5 C628.2,102.2 632.6,106.0 637.0,109.5 C641.4,113.0 645.6,117.5 650.0,120.5 C654.4,123.5 659.1,125.8 663.4,127.4 C667.7,129.1 673.6,129.9 675.6,130.4"/>
<path d="M378.0,71.6 C382.3,71.6 397.5,71.4 404.0,71.5 C410.5,71.6 412.6,72.4 417.0,72.4 C421.4,72.4 426.2,72.2 430.6,71.7 C435.1,71.2 439.3,70.3 443.7,69.1 C448.1,67.9 452.8,66.2 456.8,64.5 C460.9,62.8 464.5,60.0 468.0,58.6 C471.5,57.2 474.3,56.5 478.0,56.0 C481.7,55.5 486.1,55.5 490.0,55.5 C493.9,55.5 497.3,56.0 501.4,56.3 C505.5,56.6 510.2,56.9 514.6,57.3 C519.0,57.7 523.3,58.3 527.7,58.8 C532.1,59.3 537.1,59.8 540.8,60.1 C544.4,60.4 545.6,60.3 549.6,60.5 C553.6,60.7 558.9,60.8 564.7,61.2 C570.5,61.7 578.9,62.1 584.4,63.2 C589.9,64.3 593.2,66.4 597.6,67.7 C602.0,69.0 606.3,70.3 610.7,71.0 C615.1,71.7 618.1,71.6 623.8,71.7 C629.5,71.8 636.4,71.5 645.0,71.5 C653.6,71.5 670.5,71.8 675.6,71.9"/>
<path d="M378.0,86.7 C380.2,86.5 386.7,86.0 391.0,85.5 C395.3,85.0 399.6,84.5 404.0,83.5 C408.4,82.5 414.1,80.7 417.4,79.6 C420.7,78.5 421.4,77.5 424.0,77.0 C426.6,76.5 429.9,76.1 433.2,76.3 C436.5,76.5 439.8,77.5 443.7,78.3 C447.6,79.1 452.8,80.2 456.8,80.9 C460.9,81.6 464.5,82.4 468.0,82.5 C471.5,82.6 474.3,82.3 478.0,81.5 C481.7,80.7 486.1,79.0 490.0,77.5 C493.9,76.0 497.3,74.1 501.4,72.5 C505.5,70.9 510.2,69.2 514.6,68.0 C519.0,66.8 523.3,65.8 527.7,65.0 C532.1,64.2 537.1,63.4 540.8,63.0 C544.4,62.6 545.6,62.0 549.6,62.5 C553.6,63.0 558.9,64.6 564.7,65.8 C570.5,67.0 578.9,68.4 584.4,69.7 C589.9,71.0 593.2,72.2 597.6,73.7 C602.0,75.2 606.3,77.6 610.7,78.9 C615.1,80.2 618.9,80.7 623.8,81.5 C628.7,82.3 631.4,83.2 640.0,84.0 C648.6,84.8 669.7,86.1 675.6,86.5"/>
<path d="M378.0,98.5 C380.2,97.8 386.6,96.1 391.0,94.1 C395.4,92.1 401.0,88.7 404.3,86.5 C407.6,84.3 408.6,82.4 410.8,80.9 C413.0,79.4 414.1,78.4 417.4,77.6 C420.7,76.8 427.3,76.6 430.6,76.3 C433.9,76.0 433.8,76.2 437.1,75.7 C440.4,75.2 446.2,74.0 450.3,73.0 C454.4,72.0 457.9,70.5 462.0,69.7 C466.1,68.9 470.6,69.0 475.0,68.4 C479.4,67.9 483.9,67.0 488.3,66.4 C492.7,65.9 497.0,65.4 501.4,65.1 C505.8,64.8 510.2,64.5 514.6,64.5 C519.0,64.5 523.3,64.7 527.7,65.1 C532.1,65.5 537.1,66.7 540.8,67.1 C544.4,67.5 546.2,67.3 549.6,67.7 C553.0,68.1 556.8,68.4 561.0,69.5 C565.2,70.6 570.2,72.7 575.0,74.5 C579.8,76.3 586.2,79.1 590.0,80.5 C593.8,81.9 594.1,83.2 597.6,82.9 C601.1,82.6 606.3,79.9 610.7,78.9 C615.1,77.9 619.8,77.1 623.8,76.9 C627.8,76.8 631.5,77.1 635.0,78.0 C638.5,78.9 641.7,80.2 645.0,82.5 C648.3,84.8 649.6,88.9 654.7,92.0 C659.8,95.0 672.1,99.2 675.6,100.6"/>
<path d="M378.0,127.2 C380.5,126.3 388.0,124.3 393.0,121.9 C398.0,119.5 403.9,116.2 408.0,112.8 C412.1,109.4 413.6,104.6 417.4,101.5 C421.2,98.4 426.2,97.1 430.6,94.1 C435.0,91.1 439.3,86.8 443.7,83.5 C448.1,80.2 452.8,76.5 456.8,74.3 C460.9,72.1 464.5,71.8 468.0,70.4 C471.5,69.0 474.3,67.3 478.0,66.0 C481.7,64.7 486.1,63.4 490.0,62.5 C493.9,61.6 497.3,61.0 501.4,60.5 C505.5,60.0 510.2,59.7 514.6,59.5 C519.0,59.3 523.3,59.3 527.7,59.5 C532.1,59.7 537.1,60.2 540.8,60.5 C544.4,60.8 546.2,60.7 549.6,61.0 C553.0,61.3 556.4,61.5 561.0,62.5 C565.6,63.5 571.6,65.2 577.2,67.1 C582.8,69.0 588.8,70.6 594.5,74.0 C600.2,77.4 606.0,82.8 611.7,87.7 C617.4,92.6 623.2,98.3 628.9,103.2 C634.6,108.1 640.4,112.4 646.1,117.1 C651.9,121.7 658.5,127.7 663.4,130.9 C668.3,134.1 673.6,135.5 675.6,136.4"/>
<path d="M378.0,128.5 C380.5,127.8 388.0,126.5 393.0,124.5 C398.0,122.5 401.7,120.3 408.0,116.5 C414.3,112.7 424.7,105.2 430.6,101.5 C436.6,97.8 439.3,96.6 443.7,94.1 C448.1,91.5 452.8,88.4 456.8,86.2 C460.9,84.0 465.0,82.2 468.0,80.9 C471.0,79.6 471.6,79.2 475.0,78.5 C478.4,77.8 483.9,77.3 488.3,76.9 C492.7,76.5 497.0,76.7 501.4,76.3 C505.8,75.9 510.2,74.8 514.6,74.3 C519.0,73.8 523.3,73.4 527.7,73.0 C532.1,72.6 537.1,72.3 540.8,72.0 C544.4,71.7 545.6,71.0 549.6,71.0 C553.6,71.0 558.9,71.0 564.7,72.3 C570.5,73.6 578.9,77.1 584.4,78.9 C589.9,80.7 593.2,81.8 597.6,82.9 C602.0,84.0 606.3,84.4 610.7,85.5 C615.1,86.6 618.9,87.9 623.8,89.4 C628.7,90.9 634.0,92.2 640.0,94.5 C646.0,96.8 654.1,101.2 660.0,103.5 C665.9,105.8 673.0,107.2 675.6,108.0"/>
<path d="M378.0,134.9 C380.5,134.1 387.7,132.5 393.0,130.3 C398.3,128.1 403.8,125.0 410.0,121.5 C416.2,118.0 424.4,112.8 430.0,109.5 C435.6,106.2 439.2,103.6 443.7,101.5 C448.2,99.4 452.8,98.2 456.8,97.0 C460.9,95.8 464.1,95.0 468.0,94.5 C471.9,94.0 474.6,93.6 480.0,93.8 C485.4,94.0 493.6,95.2 500.4,95.7 C507.2,96.2 512.7,96.4 520.9,96.7 C529.1,97.0 541.1,97.4 549.6,97.3 C558.1,97.2 565.9,96.7 572.0,96.1 C578.1,95.5 582.0,94.4 586.3,93.8 C590.6,93.2 593.5,92.3 597.6,92.5 C601.7,92.7 606.3,93.8 610.7,94.7 C615.1,95.6 619.4,96.0 623.8,98.0 C628.2,100.0 632.6,103.6 637.0,106.5 C641.4,109.4 645.6,112.7 650.0,115.5 C654.4,118.3 659.1,121.3 663.4,123.2 C667.7,125.1 673.6,126.2 675.6,126.8"/>
<path d="M378.0,107.2 C381.7,107.1 393.0,106.8 400.0,106.5 C407.0,106.2 413.3,106.2 420.0,105.5 C426.7,104.8 433.3,104.0 440.0,102.5 C446.7,101.0 454.2,98.3 460.0,96.5 C465.8,94.7 470.3,93.3 475.0,91.5 C479.7,89.7 483.9,87.6 488.3,85.5 C492.7,83.4 497.0,81.1 501.4,78.9 C505.8,76.7 510.2,74.5 514.6,72.3 C519.0,70.1 523.3,67.5 527.7,65.8 C532.1,64.0 537.1,62.7 540.8,61.8 C544.4,60.9 546.4,60.6 549.6,60.5 C552.8,60.4 555.8,61.2 560.0,61.0 C564.2,60.8 570.0,60.1 575.0,59.5 C580.0,58.9 584.2,57.6 590.0,57.5 C595.8,57.4 603.3,58.5 610.0,59.0 C616.7,59.5 623.3,60.4 630.0,60.5 C636.7,60.6 642.4,59.6 650.0,59.5 C657.6,59.4 671.3,59.8 675.6,59.8"/>
<path d="M378.0,107.2 C380.5,107.1 388.0,106.9 393.0,106.7 C398.0,106.5 402.9,106.2 408.0,106.0 C413.1,105.8 418.4,105.6 423.5,105.2 C428.6,104.8 433.6,104.4 438.7,103.7 C443.8,103.0 448.9,101.8 454.0,101.0 C459.1,100.2 464.7,99.5 469.0,99.1 C473.3,98.7 474.8,98.5 480.0,98.7 C485.2,98.9 493.6,99.7 500.4,100.2 C507.2,100.7 512.7,101.2 520.9,101.8 C529.1,102.4 541.1,102.9 549.6,103.8 C558.1,104.7 564.9,105.9 572.0,106.9 C579.1,107.9 585.6,108.8 592.4,110.0 C599.2,111.2 605.3,111.8 612.8,114.1 C620.3,116.4 629.1,120.9 637.5,124.0 C645.9,127.1 657.0,130.3 663.4,132.5 C669.8,134.7 673.6,136.5 675.6,137.3"/>
<path d="M378.0,134.9 C380.5,134.1 388.0,132.2 393.0,130.3 C398.0,128.4 402.9,125.7 408.0,123.5 C413.1,121.3 418.4,119.1 423.5,117.0 C428.6,114.9 433.6,112.9 438.7,111.0 C443.8,109.1 448.8,106.7 454.0,105.5 C459.2,104.3 464.8,104.1 470.0,104.0 C475.2,103.9 480.1,104.6 485.2,105.0 C490.2,105.4 494.4,106.1 500.3,106.3 C506.2,106.5 512.7,106.3 520.9,105.9 C529.1,105.5 541.1,104.4 549.6,103.8 C558.1,103.2 566.0,102.6 572.0,102.2 C578.0,101.8 581.1,101.5 585.8,101.5 C590.5,101.5 595.7,101.7 600.0,102.0 C604.3,102.3 605.5,102.6 611.7,103.2 C618.0,103.8 626.9,104.8 637.5,105.8 C648.1,106.8 669.2,108.9 675.6,109.5"/>
<path d="M378.0,179.8 C380.1,179.2 386.1,178.4 390.6,176.2 C395.1,174.0 400.3,170.2 405.2,166.4 C410.1,162.6 414.9,157.9 419.8,153.3 C424.7,148.7 429.5,143.1 434.4,138.7 C439.3,134.3 444.1,130.2 449.0,127.0 C453.9,123.8 459.1,121.8 463.6,119.7 C468.1,117.6 471.6,115.8 476.0,114.6 C480.4,113.4 483.0,112.9 490.0,112.5 C497.0,112.1 508.1,112.5 518.0,112.3 C527.9,112.1 541.5,111.2 549.6,111.5 C557.7,111.8 560.4,112.6 566.4,114.0 C572.4,115.4 579.9,117.8 585.8,120.0 C591.6,122.2 596.2,124.2 601.5,127.1 C606.8,130.0 612.0,133.2 617.3,137.3 C622.6,141.4 628.4,146.8 633.1,151.5 C637.8,156.2 641.5,161.6 645.7,165.7 C649.9,169.8 653.3,173.5 658.3,175.8 C663.3,178.1 672.7,178.9 675.6,179.5"/>
<path d="M378.0,183.8 C381.3,182.9 392.1,180.9 397.9,178.5 C403.6,176.1 407.6,172.9 412.5,169.4 C417.4,165.9 422.2,161.5 427.1,157.7 C432.0,153.9 436.8,149.4 441.7,146.5 C446.6,143.6 451.6,141.7 456.3,140.0 C461.0,138.3 465.1,137.3 470.0,136.3 C474.9,135.3 480.7,134.5 486.0,134.1 C491.3,133.7 496.7,133.7 502.0,133.8 C507.3,133.9 512.7,134.5 518.0,134.8 C523.3,135.2 528.7,135.6 534.0,135.9 C539.3,136.2 544.3,136.2 549.6,136.4 C554.9,136.6 560.6,136.6 566.0,136.8 C571.4,137.1 577.0,137.2 582.0,137.9 C587.0,138.6 591.7,139.4 596.0,141.0 C600.3,142.6 604.0,145.2 608.0,147.5 C612.0,149.8 615.8,152.2 620.0,155.0 C624.2,157.8 628.3,161.3 633.1,164.1 C637.9,166.9 644.1,169.5 648.8,172.0 C653.5,174.5 656.9,177.1 661.4,179.2 C665.9,181.2 673.2,183.4 675.6,184.3"/>
<path d="M378.0,148.0 C380.1,147.7 386.1,147.1 390.6,146.0 C395.1,144.9 400.3,143.3 405.2,141.6 C410.1,139.9 414.9,137.8 419.8,135.8 C424.7,133.9 429.5,131.9 434.4,129.9 C439.3,128.0 444.1,126.0 449.0,124.1 C453.9,122.2 458.4,120.1 463.6,118.3 C468.8,116.5 473.9,114.3 480.0,113.3 C486.1,112.2 493.6,112.3 500.4,112.0 C507.2,111.7 512.7,111.7 520.9,111.6 C529.1,111.5 541.1,111.4 549.6,111.6 C558.1,111.8 564.9,111.9 572.0,113.0 C579.1,114.1 585.6,116.3 592.4,118.2 C599.2,120.1 606.5,122.2 612.8,124.3 C619.1,126.4 624.6,128.6 630.0,131.0 C635.4,133.4 640.0,136.3 645.0,138.5 C650.0,140.7 654.9,142.5 660.0,144.0 C665.1,145.5 673.0,146.9 675.6,147.5"/>
<path d="M378.0,148.0 C381.3,147.4 392.1,146.1 397.9,144.5 C403.6,142.9 407.6,140.9 412.5,138.7 C417.4,136.5 422.2,133.8 427.1,131.4 C432.0,129.0 436.8,126.5 441.7,124.1 C446.6,121.7 451.4,119.1 456.3,116.8 C461.2,114.5 466.9,112.0 470.9,110.5 C474.8,109.0 475.1,108.7 480.0,108.1 C484.9,107.5 493.6,107.3 500.4,106.9 C507.2,106.5 512.7,106.4 520.9,105.9 C529.1,105.4 541.1,104.4 549.6,103.8 C558.1,103.2 564.9,102.7 572.0,102.2 C579.1,101.7 586.9,101.4 592.4,100.8 C597.9,100.2 600.4,99.2 605.0,98.5 C609.6,97.8 615.0,96.5 620.0,96.5 C625.0,96.5 630.0,96.3 635.0,98.5 C640.0,100.7 645.3,104.7 650.0,109.5 C654.7,114.3 658.7,123.4 663.0,127.5 C667.3,131.6 673.5,132.8 675.6,133.9"/>
</g>
<g stroke="#8fc6e6" stroke-width="2.0">
<path d="M378.0,53.8 C380.2,53.8 386.7,53.7 391.0,54.0 C395.3,54.2 399.7,54.9 404.0,55.4 C408.3,55.8 412.6,56.4 417.0,56.6 C421.4,56.9 426.2,57.3 430.6,56.6 C435.1,56.0 439.3,53.9 443.7,52.6 C448.1,51.4 452.8,50.2 456.8,49.4 C460.9,48.5 465.0,48.0 468.0,47.5 C471.0,46.9 471.7,46.4 475.0,46.1 C478.3,45.7 483.6,45.6 488.0,45.5 C492.4,45.4 497.0,45.2 501.4,45.5 C505.8,45.7 510.2,46.1 514.6,46.8 C519.0,47.4 523.3,48.6 527.7,49.4 C532.1,50.1 537.1,50.8 540.8,51.1 C544.4,51.5 545.6,51.4 549.6,51.4 C553.6,51.3 558.9,51.1 564.7,51.0 C570.5,50.8 578.9,50.4 584.4,50.5 C589.9,50.5 593.2,50.6 597.6,51.4 C602.0,52.1 606.3,54.3 610.7,55.2 C615.1,56.2 619.3,57.1 623.8,57.2 C628.3,57.4 632.4,56.8 637.5,56.4 C642.6,55.9 648.4,54.9 654.7,54.4 C661.1,53.8 672.1,53.1 675.6,52.9"/>
<path d="M378.0,59.7 C380.2,59.6 386.7,59.0 391.0,59.2 C395.3,59.5 399.7,60.7 404.0,61.2 C408.3,61.8 412.6,62.5 417.0,62.6 C421.4,62.7 426.2,62.2 430.6,61.9 C435.1,61.5 439.3,61.2 443.7,60.6 C448.1,59.9 452.8,59.0 456.8,58.0 C460.9,56.9 465.0,55.6 468.0,54.4 C471.0,53.1 471.7,51.4 475.0,50.4 C478.3,49.4 483.6,48.6 488.0,48.4 C492.4,48.1 497.0,48.4 501.4,48.8 C505.8,49.1 510.2,49.9 514.6,50.6 C519.0,51.4 523.3,52.7 527.7,53.4 C532.1,54.0 537.1,54.4 540.8,54.6 C544.4,54.9 545.6,54.9 549.6,54.6 C553.6,54.4 558.9,53.7 564.7,53.4 C570.5,53.0 578.9,52.5 584.4,52.6 C589.9,52.8 593.2,53.2 597.6,54.0 C602.0,54.7 606.3,56.1 610.7,57.2 C615.1,58.4 619.3,59.9 623.8,60.6 C628.3,61.2 632.4,61.4 637.5,61.4 C642.6,61.3 648.4,60.4 654.7,60.1 C661.1,59.9 672.1,59.9 675.6,59.8"/>
<path d="M378.0,59.7 C380.2,59.6 386.7,59.0 391.0,59.2 C395.3,59.5 399.7,60.8 404.0,61.2 C408.3,61.7 412.6,62.5 417.0,62.1 C421.4,61.8 426.2,60.3 430.6,59.4 C435.1,58.4 439.3,57.2 443.7,56.4 C448.1,55.5 452.8,54.9 456.8,54.4 C460.9,53.9 462.8,53.8 468.0,53.4 C473.2,53.0 482.4,52.1 488.0,52.0 C493.6,51.8 497.0,52.3 501.4,52.6 C505.8,53.0 510.2,53.4 514.6,54.0 C519.0,54.5 523.3,55.3 527.7,55.9 C532.1,56.4 537.1,56.8 540.8,57.1 C544.4,57.3 545.6,57.4 549.6,57.2 C553.6,57.1 558.9,55.8 564.7,56.0 C570.5,56.1 578.9,57.1 584.4,58.0 C589.9,58.8 593.2,60.0 597.6,61.1 C602.0,62.3 606.3,63.8 610.7,65.1 C615.1,66.5 619.8,68.2 623.8,69.0 C627.8,69.9 629.8,70.1 635.0,70.3 C640.2,70.6 648.2,70.4 655.0,70.6 C661.8,70.9 672.2,71.7 675.6,71.9"/>
<path d="M378.0,71.6 C380.2,71.4 386.7,70.6 391.0,70.4 C395.3,70.3 399.7,70.6 404.0,70.8 C408.3,71.1 412.6,71.4 417.0,71.8 C421.4,72.1 427.2,72.6 430.6,73.0 C434.0,73.5 433.8,73.6 437.1,74.3 C440.4,75.1 446.2,76.6 450.3,77.6 C454.4,78.7 457.9,79.9 462.0,80.8 C466.1,81.8 470.6,82.9 475.0,83.5 C479.4,84.2 483.9,84.8 488.3,84.8 C492.7,84.8 497.0,84.4 501.4,83.5 C505.8,82.7 510.2,80.9 514.6,79.5 C519.0,78.2 523.3,76.9 527.7,75.6 C532.1,74.4 537.1,72.7 540.8,71.8 C544.4,71.0 545.6,69.9 549.6,70.3 C553.6,70.8 558.9,72.6 564.7,74.3 C570.5,76.1 578.9,79.1 584.4,80.8 C589.9,82.6 593.2,82.9 597.6,84.8 C602.0,86.8 606.3,90.4 610.7,92.8 C615.1,95.1 619.4,96.2 623.8,98.8 C628.2,101.5 632.6,105.3 637.0,108.8 C641.4,112.3 645.6,116.9 650.0,119.8 C654.4,122.8 659.1,125.0 663.4,126.8 C667.7,128.5 673.6,129.8 675.6,130.4"/>
<path d="M378.0,71.6 C382.3,71.5 397.5,70.8 404.0,70.8 C410.5,70.9 412.6,71.7 417.0,71.8 C421.4,71.8 426.2,71.6 430.6,71.0 C435.1,70.5 439.3,69.6 443.7,68.4 C448.1,67.2 452.8,65.6 456.8,63.9 C460.9,62.1 464.5,59.4 468.0,58.0 C471.5,56.5 474.3,55.9 478.0,55.4 C481.7,54.8 486.1,54.8 490.0,54.9 C493.9,54.9 497.3,55.4 501.4,55.6 C505.5,55.9 510.2,56.2 514.6,56.6 C519.0,57.1 523.3,57.7 527.7,58.1 C532.1,58.6 537.1,59.2 540.8,59.5 C544.4,59.7 545.6,59.7 549.6,59.9 C553.6,60.0 558.9,60.1 564.7,60.6 C570.5,61.0 578.9,61.5 584.4,62.6 C589.9,63.6 593.2,65.8 597.6,67.0 C602.0,68.3 606.3,69.7 610.7,70.3 C615.1,71.0 618.1,71.0 623.8,71.0 C629.5,71.1 636.4,70.7 645.0,70.8 C653.6,71.0 670.5,71.7 675.6,71.9"/>
<path d="M378.0,86.7 C380.2,86.4 386.7,85.5 391.0,84.8 C395.3,84.2 399.6,83.8 404.0,82.8 C408.4,81.9 414.1,80.0 417.4,78.9 C420.7,77.9 421.4,76.9 424.0,76.3 C426.6,75.8 429.9,75.4 433.2,75.6 C436.5,75.9 439.8,76.9 443.7,77.6 C447.6,78.4 452.8,79.5 456.8,80.2 C460.9,81.0 464.5,81.8 468.0,81.8 C471.5,81.9 474.3,81.7 478.0,80.8 C481.7,80.0 486.1,78.3 490.0,76.8 C493.9,75.3 497.3,73.4 501.4,71.8 C505.5,70.3 510.2,68.6 514.6,67.3 C519.0,66.1 523.3,65.2 527.7,64.3 C532.1,63.5 537.1,62.8 540.8,62.4 C544.4,61.9 545.6,61.4 549.6,61.9 C553.6,62.3 558.9,63.9 564.7,65.1 C570.5,66.3 578.9,67.7 584.4,69.0 C589.9,70.4 593.2,71.5 597.6,73.0 C602.0,74.6 606.3,77.0 610.7,78.2 C615.1,79.5 618.9,80.0 623.8,80.8 C628.7,81.7 631.4,82.4 640.0,83.3 C648.6,84.3 669.7,86.0 675.6,86.5"/>
<path d="M378.0,98.4 C380.2,97.6 386.6,95.9 391.0,93.8 C395.4,91.7 401.0,88.2 404.3,85.9 C407.6,83.7 408.6,81.7 410.8,80.2 C413.0,78.8 414.1,77.7 417.4,76.9 C420.7,76.2 427.3,76.0 430.6,75.6 C433.9,75.3 433.8,75.6 437.1,75.0 C440.4,74.5 446.2,73.3 450.3,72.3 C454.4,71.3 457.9,69.8 462.0,69.0 C466.1,68.3 470.6,68.3 475.0,67.8 C479.4,67.2 483.9,66.3 488.3,65.8 C492.7,65.2 497.0,64.8 501.4,64.4 C505.8,64.1 510.2,63.9 514.6,63.9 C519.0,63.9 523.3,64.0 527.7,64.4 C532.1,64.9 537.1,66.0 540.8,66.4 C544.4,66.9 546.2,66.6 549.6,67.0 C553.0,67.5 556.8,67.7 561.0,68.8 C565.2,70.0 570.2,72.0 575.0,73.8 C579.8,75.7 586.2,78.4 590.0,79.8 C593.8,81.2 594.1,82.5 597.6,82.2 C601.1,82.0 606.3,79.2 610.7,78.2 C615.1,77.2 619.8,76.4 623.8,76.2 C627.8,76.1 631.5,76.4 635.0,77.3 C638.5,78.3 641.7,79.5 645.0,81.8 C648.3,84.2 649.6,88.4 654.7,91.5 C659.8,94.6 672.1,99.0 675.6,100.5"/>
<path d="M378.0,127.1 C380.5,126.1 388.0,124.0 393.0,121.5 C398.0,119.0 403.9,115.6 408.0,112.1 C412.1,108.7 413.6,104.0 417.4,100.8 C421.2,97.7 426.2,96.4 430.6,93.4 C435.0,90.4 439.3,86.1 443.7,82.8 C448.1,79.5 452.8,75.8 456.8,73.6 C460.9,71.5 464.5,71.1 468.0,69.8 C471.5,68.4 474.3,66.7 478.0,65.3 C481.7,64.0 486.1,62.8 490.0,61.9 C493.9,60.9 497.3,60.4 501.4,59.9 C505.5,59.4 510.2,59.0 514.6,58.9 C519.0,58.7 523.3,58.7 527.7,58.9 C532.1,59.0 537.1,59.6 540.8,59.9 C544.4,60.1 546.2,60.0 549.6,60.4 C553.0,60.7 556.4,60.8 561.0,61.9 C565.6,62.9 571.6,64.5 577.2,66.4 C582.8,68.4 588.8,69.9 594.5,73.3 C600.2,76.8 606.0,82.2 611.7,87.0 C617.4,91.9 623.2,97.7 628.9,102.5 C634.6,107.4 640.4,111.7 646.1,116.4 C651.9,121.1 658.5,127.2 663.4,130.5 C668.3,133.9 673.6,135.3 675.6,136.3"/>
<path d="M378.0,128.5 C380.5,127.7 388.0,126.0 393.0,123.8 C398.0,121.7 401.7,119.7 408.0,115.8 C414.3,112.0 424.7,104.6 430.6,100.8 C436.6,97.1 439.3,96.0 443.7,93.4 C448.1,90.9 452.8,87.8 456.8,85.5 C460.9,83.3 465.0,81.5 468.0,80.2 C471.0,79.0 471.6,78.5 475.0,77.8 C478.4,77.2 483.9,76.6 488.3,76.2 C492.7,75.9 497.0,76.1 501.4,75.6 C505.8,75.2 510.2,74.2 514.6,73.6 C519.0,73.1 523.3,72.7 527.7,72.3 C532.1,72.0 537.1,71.7 540.8,71.3 C544.4,71.0 545.6,70.3 549.6,70.3 C553.6,70.4 558.9,70.3 564.7,71.6 C570.5,73.0 578.9,76.5 584.4,78.2 C589.9,80.0 593.2,81.2 597.6,82.2 C602.0,83.3 606.3,83.8 610.7,84.8 C615.1,85.9 618.9,87.2 623.8,88.8 C628.7,90.2 634.0,91.5 640.0,93.8 C646.0,96.2 654.1,100.5 660.0,102.8 C665.9,105.2 673.0,107.1 675.6,108.0"/>
<path d="M378.0,134.8 C380.5,134.0 387.7,132.2 393.0,129.9 C398.3,127.6 403.8,124.4 410.0,120.8 C416.2,117.3 424.4,112.2 430.0,108.8 C435.6,105.5 439.2,102.9 443.7,100.8 C448.2,98.8 452.8,97.5 456.8,96.3 C460.9,95.2 464.1,94.4 468.0,93.8 C471.9,93.3 474.6,92.9 480.0,93.1 C485.4,93.3 493.6,94.6 500.4,95.0 C507.2,95.5 512.7,95.8 520.9,96.0 C529.1,96.3 541.1,96.8 549.6,96.6 C558.1,96.5 565.9,96.0 572.0,95.4 C578.1,94.9 582.0,93.7 586.3,93.1 C590.6,92.5 593.5,91.7 597.6,91.8 C601.7,92.0 606.3,93.1 610.7,94.0 C615.1,95.0 619.4,95.4 623.8,97.3 C628.2,99.3 632.6,102.9 637.0,105.8 C641.4,108.8 645.6,112.0 650.0,114.8 C654.4,117.7 659.1,120.9 663.4,122.9 C667.7,124.8 673.6,126.1 675.6,126.7"/>
<path d="M378.0,107.2 C381.7,107.0 393.0,106.2 400.0,105.8 C407.0,105.5 413.3,105.5 420.0,104.8 C426.7,104.2 433.3,103.3 440.0,101.8 C446.7,100.3 454.2,97.7 460.0,95.8 C465.8,94.0 470.3,92.7 475.0,90.8 C479.7,89.0 483.9,86.9 488.3,84.8 C492.7,82.8 497.0,80.5 501.4,78.2 C505.8,76.0 510.2,73.8 514.6,71.6 C519.0,69.5 523.3,66.9 527.7,65.1 C532.1,63.4 537.1,62.0 540.8,61.1 C544.4,60.3 546.4,60.0 549.6,59.9 C552.8,59.7 555.8,60.5 560.0,60.4 C564.2,60.2 570.0,59.4 575.0,58.9 C580.0,58.3 584.2,56.9 590.0,56.9 C595.8,56.8 603.3,57.9 610.0,58.4 C616.7,58.9 623.3,59.8 630.0,59.9 C636.7,59.9 642.4,58.9 650.0,58.9 C657.6,58.8 671.3,59.6 675.6,59.8"/>
<path d="M378.0,107.2 C380.5,107.0 388.0,106.4 393.0,106.0 C398.0,105.7 402.9,105.6 408.0,105.3 C413.1,105.1 418.4,104.9 423.5,104.5 C428.6,104.2 433.6,103.8 438.7,103.0 C443.8,102.3 448.9,101.1 454.0,100.3 C459.1,99.6 464.7,98.8 469.0,98.4 C473.3,98.1 474.8,97.9 480.0,98.0 C485.2,98.2 493.6,99.0 500.4,99.5 C507.2,100.1 512.7,100.5 520.9,101.1 C529.1,101.7 541.1,102.3 549.6,103.1 C558.1,104.0 564.9,105.2 572.0,106.2 C579.1,107.3 585.6,108.1 592.4,109.3 C599.2,110.5 605.3,111.1 612.8,113.4 C620.3,115.8 629.1,120.3 637.5,123.3 C645.9,126.4 657.0,129.5 663.4,131.8 C669.8,134.2 673.6,136.4 675.6,137.3"/>
<path d="M378.0,134.8 C380.5,134.0 388.0,131.9 393.0,129.9 C398.0,127.9 402.9,125.1 408.0,122.8 C413.1,120.6 418.4,118.4 423.5,116.3 C428.6,114.3 433.6,112.3 438.7,110.3 C443.8,108.4 448.8,106.0 454.0,104.8 C459.2,103.7 464.8,103.4 470.0,103.3 C475.2,103.3 480.1,104.0 485.2,104.3 C490.2,104.7 494.4,105.5 500.3,105.6 C506.2,105.8 512.7,105.7 520.9,105.2 C529.1,104.8 541.1,103.8 549.6,103.1 C558.1,102.5 566.0,101.9 572.0,101.5 C578.0,101.2 581.1,100.9 585.8,100.8 C590.5,100.8 595.7,101.1 600.0,101.3 C604.3,101.6 605.5,101.9 611.7,102.5 C618.0,103.2 626.9,104.0 637.5,105.1 C648.1,106.3 669.2,108.7 675.6,109.4"/>
<path d="M378.0,179.7 C380.1,179.1 386.1,178.2 390.6,175.8 C395.1,173.5 400.3,169.6 405.2,165.8 C410.1,161.9 414.9,157.3 419.8,152.7 C424.7,148.0 429.5,142.4 434.4,138.0 C439.3,133.7 444.1,129.5 449.0,126.3 C453.9,123.2 459.1,121.1 463.6,119.0 C468.1,117.0 471.6,115.1 476.0,113.9 C480.4,112.7 483.0,112.2 490.0,111.8 C497.0,111.5 508.1,111.8 518.0,111.6 C527.9,111.5 541.5,110.6 549.6,110.8 C557.7,111.1 560.4,111.9 566.4,113.3 C572.4,114.8 579.9,117.2 585.8,119.3 C591.6,121.5 596.2,123.6 601.5,126.4 C606.8,129.3 612.0,132.6 617.3,136.7 C622.6,140.7 628.4,146.1 633.1,150.8 C637.8,155.6 641.5,161.0 645.7,165.0 C649.9,169.1 653.3,172.9 658.3,175.3 C663.3,177.7 672.7,178.7 675.6,179.4"/>
<path d="M378.0,183.7 C381.3,182.8 392.1,180.5 397.9,178.0 C403.6,175.5 407.6,172.2 412.5,168.8 C417.4,165.3 422.2,160.9 427.1,157.0 C432.0,153.2 436.8,148.8 441.7,145.8 C446.6,142.9 451.6,141.0 456.3,139.3 C461.0,137.7 465.1,136.6 470.0,135.7 C474.9,134.7 480.7,133.9 486.0,133.4 C491.3,133.0 496.7,133.0 502.0,133.2 C507.3,133.3 512.7,133.8 518.0,134.2 C523.3,134.5 528.7,135.0 534.0,135.2 C539.3,135.5 544.3,135.6 549.6,135.8 C554.9,135.9 560.6,135.9 566.0,136.2 C571.4,136.4 577.0,136.6 582.0,137.2 C587.0,137.9 591.7,138.8 596.0,140.3 C600.3,141.9 604.0,144.5 608.0,146.8 C612.0,149.2 615.8,151.6 620.0,154.3 C624.2,157.1 628.3,160.6 633.1,163.4 C637.9,166.3 644.1,168.8 648.8,171.3 C653.5,173.9 656.9,176.6 661.4,178.8 C665.9,180.9 673.2,183.3 675.6,184.2"/>
<path d="M378.0,148.0 C380.1,147.6 386.1,146.5 390.6,145.3 C395.1,144.2 400.3,142.6 405.2,140.9 C410.1,139.2 414.9,137.1 419.8,135.2 C424.7,133.2 429.5,131.2 434.4,129.2 C439.3,127.3 444.1,125.4 449.0,123.4 C453.9,121.5 458.4,119.4 463.6,117.6 C468.8,115.8 473.9,113.7 480.0,112.6 C486.1,111.6 493.6,111.6 500.4,111.3 C507.2,111.1 512.7,111.0 520.9,110.9 C529.1,110.9 541.1,110.7 549.6,110.9 C558.1,111.2 564.9,111.2 572.0,112.3 C579.1,113.4 585.6,115.7 592.4,117.5 C599.2,119.4 606.5,121.5 612.8,123.6 C619.1,125.8 624.6,128.0 630.0,130.3 C635.4,132.7 640.0,135.7 645.0,137.8 C650.0,140.0 654.9,141.7 660.0,143.3 C665.1,145.0 673.0,146.8 675.6,147.5"/>
<path d="M378.0,148.0 C381.3,147.3 392.1,145.5 397.9,143.8 C403.6,142.2 407.6,140.2 412.5,138.0 C417.4,135.9 422.2,133.2 427.1,130.8 C432.0,128.3 436.8,125.9 441.7,123.4 C446.6,121.0 451.4,118.4 456.3,116.1 C461.2,113.9 466.9,111.3 470.9,109.8 C474.8,108.4 475.1,108.0 480.0,107.4 C484.9,106.8 493.6,106.6 500.4,106.2 C507.2,105.9 512.7,105.8 520.9,105.2 C529.1,104.7 541.1,103.8 549.6,103.1 C558.1,102.5 564.9,102.0 572.0,101.5 C579.1,101.0 586.9,100.8 592.4,100.1 C597.9,99.5 600.4,98.6 605.0,97.8 C609.6,97.1 615.0,95.8 620.0,95.8 C625.0,95.8 630.0,95.7 635.0,97.8 C640.0,100.0 645.3,104.0 650.0,108.8 C654.7,113.7 658.7,122.7 663.0,126.8 C667.3,131.0 673.5,132.7 675.6,133.9"/>
</g>
<g stroke="#f8b310" stroke-width="2.0">
<path d="M378.0,53.8 C380.2,53.9 386.7,53.9 391.0,54.2 C395.3,54.6 399.7,55.2 404.0,55.6 C408.3,56.1 412.6,56.7 417.0,56.9 C421.4,57.2 426.2,57.6 430.6,56.9 C435.1,56.3 439.3,54.2 443.7,52.9 C448.1,51.7 452.8,50.5 456.8,49.6 C460.9,48.8 465.0,48.3 468.0,47.8 C471.0,47.2 471.7,46.7 475.0,46.4 C478.3,46.0 483.6,45.9 488.0,45.8 C492.4,45.6 497.0,45.5 501.4,45.8 C505.8,46.0 510.2,46.4 514.6,47.0 C519.0,47.7 523.3,48.9 527.7,49.6 C532.1,50.4 537.1,51.1 540.8,51.4 C544.4,51.8 545.6,51.7 549.6,51.6 C553.6,51.6 558.9,51.4 564.7,51.2 C570.5,51.1 578.9,50.7 584.4,50.8 C589.9,50.8 593.2,50.9 597.6,51.6 C602.0,52.4 606.3,54.6 610.7,55.5 C615.1,56.5 619.3,57.4 623.8,57.5 C628.3,57.7 632.4,57.1 637.5,56.6 C642.6,56.2 648.4,55.3 654.7,54.6 C661.1,54.0 672.1,53.2 675.6,52.9"/>
<path d="M378.0,59.7 C380.2,59.7 386.7,59.2 391.0,59.5 C395.3,59.9 399.7,61.0 404.0,61.5 C408.3,62.1 412.6,62.8 417.0,62.9 C421.4,63.0 426.2,62.5 430.6,62.1 C435.1,61.8 439.3,61.5 443.7,60.9 C448.1,60.2 452.8,59.3 456.8,58.2 C460.9,57.2 465.0,55.9 468.0,54.6 C471.0,53.4 471.7,51.6 475.0,50.6 C478.3,49.6 483.6,48.9 488.0,48.6 C492.4,48.4 497.0,48.7 501.4,49.0 C505.8,49.4 510.2,50.2 514.6,50.9 C519.0,51.7 523.3,53.0 527.7,53.6 C532.1,54.3 537.1,54.7 540.8,54.9 C544.4,55.2 545.6,55.2 549.6,54.9 C553.6,54.7 558.9,54.0 564.7,53.6 C570.5,53.3 578.9,52.8 584.4,52.9 C589.9,53.0 593.2,53.5 597.6,54.2 C602.0,55.0 606.3,56.4 610.7,57.5 C615.1,58.6 619.3,60.2 623.8,60.9 C628.3,61.5 632.4,61.7 637.5,61.6 C642.6,61.6 648.4,60.8 654.7,60.4 C661.1,60.1 672.1,59.9 675.6,59.8"/>
<path d="M378.0,59.7 C380.2,59.7 386.7,59.2 391.0,59.5 C395.3,59.9 399.7,61.1 404.0,61.5 C408.3,62.0 412.6,62.8 417.0,62.4 C421.4,62.1 426.2,60.6 430.6,59.6 C435.1,58.7 439.3,57.5 443.7,56.6 C448.1,55.8 452.8,55.1 456.8,54.6 C460.9,54.1 462.8,54.0 468.0,53.6 C473.2,53.2 482.4,52.4 488.0,52.2 C493.6,52.1 497.0,52.6 501.4,52.9 C505.8,53.3 510.2,53.7 514.6,54.2 C519.0,54.8 523.3,55.6 527.7,56.1 C532.1,56.7 537.1,57.1 540.8,57.4 C544.4,57.6 545.6,57.7 549.6,57.5 C553.6,57.4 558.9,56.1 564.7,56.2 C570.5,56.4 578.9,57.4 584.4,58.2 C589.9,59.1 593.2,60.2 597.6,61.4 C602.0,62.6 606.3,64.1 610.7,65.5 C615.1,66.8 619.8,68.5 623.8,69.4 C627.8,70.2 629.8,70.4 635.0,70.7 C640.2,70.9 648.2,70.7 655.0,71.0 C661.8,71.2 672.2,71.7 675.6,71.9"/>
<path d="M378.0,71.6 C380.2,71.5 386.7,70.8 391.0,70.8 C395.3,70.7 399.7,70.9 404.0,71.2 C408.3,71.4 412.6,71.7 417.0,72.1 C421.4,72.4 427.2,72.9 430.6,73.4 C434.0,73.8 433.8,73.9 437.1,74.7 C440.4,75.4 446.2,76.9 450.3,78.0 C454.4,79.0 457.9,80.2 462.0,81.2 C466.1,82.1 470.6,83.2 475.0,83.9 C479.4,84.5 483.9,85.2 488.3,85.2 C492.7,85.2 497.0,84.7 501.4,83.9 C505.8,83.0 510.2,81.2 514.6,79.9 C519.0,78.5 523.3,77.2 527.7,76.0 C532.1,74.7 537.1,73.0 540.8,72.2 C544.4,71.3 545.6,70.2 549.6,70.7 C553.6,71.1 558.9,72.9 564.7,74.7 C570.5,76.4 578.9,79.4 584.4,81.2 C589.9,82.9 593.2,83.2 597.6,85.2 C602.0,87.1 606.3,90.7 610.7,93.1 C615.1,95.4 619.4,96.5 623.8,99.2 C628.2,101.8 632.6,105.7 637.0,109.2 C641.4,112.7 645.6,117.2 650.0,120.2 C654.4,123.1 659.1,125.3 663.4,127.1 C667.7,128.8 673.6,129.8 675.6,130.4"/>
<path d="M378.0,71.6 C382.3,71.5 397.5,71.1 404.0,71.2 C410.5,71.2 412.6,72.0 417.0,72.1 C421.4,72.1 426.2,71.9 430.6,71.4 C435.1,70.8 439.3,70.0 443.7,68.8 C448.1,67.5 452.8,65.9 456.8,64.2 C460.9,62.4 464.5,59.7 468.0,58.2 C471.5,56.8 474.3,56.2 478.0,55.6 C481.7,55.1 486.1,55.1 490.0,55.1 C493.9,55.2 497.3,55.6 501.4,55.9 C505.5,56.2 510.2,56.5 514.6,56.9 C519.0,57.4 523.3,58.0 527.7,58.4 C532.1,58.9 537.1,59.5 540.8,59.8 C544.4,60.0 545.6,60.0 549.6,60.1 C553.6,60.3 558.9,60.4 564.7,60.9 C570.5,61.3 578.9,61.8 584.4,62.9 C589.9,63.9 593.2,66.1 597.6,67.4 C602.0,68.7 606.3,70.0 610.7,70.7 C615.1,71.3 618.1,71.3 623.8,71.4 C629.5,71.4 636.4,71.1 645.0,71.2 C653.6,71.2 670.5,71.8 675.6,71.9"/>
<path d="M378.0,86.7 C380.2,86.4 386.7,85.7 391.0,85.2 C395.3,84.6 399.6,84.1 404.0,83.2 C408.4,82.2 414.1,80.3 417.4,79.2 C420.7,78.2 421.4,77.2 424.0,76.7 C426.6,76.1 429.9,75.7 433.2,76.0 C436.5,76.2 439.8,77.2 443.7,78.0 C447.6,78.7 452.8,79.9 456.8,80.6 C460.9,81.3 464.5,82.1 468.0,82.2 C471.5,82.2 474.3,82.0 478.0,81.2 C481.7,80.3 486.1,78.7 490.0,77.2 C493.9,75.7 497.3,73.7 501.4,72.2 C505.5,70.6 510.2,68.9 514.6,67.7 C519.0,66.4 523.3,65.5 527.7,64.7 C532.1,63.8 537.1,63.1 540.8,62.6 C544.4,62.2 545.6,61.7 549.6,62.1 C553.6,62.6 558.9,64.2 564.7,65.5 C570.5,66.7 578.9,68.0 584.4,69.4 C589.9,70.7 593.2,71.8 597.6,73.4 C602.0,74.9 606.3,77.3 610.7,78.6 C615.1,79.9 618.9,80.3 623.8,81.2 C628.7,82.0 631.4,82.8 640.0,83.7 C648.6,84.5 669.7,86.0 675.6,86.5"/>
<path d="M378.0,97.5 C380.2,96.8 386.6,95.3 391.0,93.4 C395.4,91.5 401.0,88.2 404.3,86.1 C407.6,83.9 408.6,82.0 410.8,80.6 C413.0,79.1 414.1,78.0 417.4,77.2 C420.7,76.5 427.3,76.3 430.6,76.0 C433.9,75.6 433.8,75.9 437.1,75.4 C440.4,74.8 446.2,73.7 450.3,72.7 C454.4,71.7 457.9,70.1 462.0,69.4 C466.1,68.6 470.6,68.6 475.0,68.1 C479.4,67.5 483.9,66.6 488.3,66.1 C492.7,65.5 497.0,65.1 501.4,64.8 C505.8,64.4 510.2,64.2 514.6,64.2 C519.0,64.2 523.3,64.3 527.7,64.8 C532.1,65.2 537.1,66.3 540.8,66.8 C544.4,67.2 546.2,67.0 549.6,67.4 C553.0,67.8 556.8,68.0 561.0,69.2 C565.2,70.3 570.2,72.3 575.0,74.2 C579.8,76.0 586.2,78.8 590.0,80.2 C593.8,81.6 594.1,82.8 597.6,82.6 C601.1,82.3 606.3,79.6 610.7,78.6 C615.1,77.6 619.8,76.7 623.8,76.6 C627.8,76.4 631.5,76.7 635.0,77.7 C638.5,78.6 641.7,79.9 645.0,82.2 C648.3,84.4 649.6,88.5 654.7,91.4 C659.8,94.3 672.1,98.2 675.6,99.6"/>
<path d="M378.0,126.0 C380.5,125.1 388.0,123.4 393.0,121.1 C398.0,118.9 403.9,115.8 408.0,112.5 C412.1,109.1 413.6,104.3 417.4,101.2 C421.2,98.0 426.2,96.8 430.6,93.8 C435.0,90.8 439.3,86.5 443.7,83.2 C448.1,79.9 452.8,76.1 456.8,74.0 C460.9,71.8 464.5,71.4 468.0,70.1 C471.5,68.7 474.3,67.0 478.0,65.7 C481.7,64.3 486.1,63.1 490.0,62.1 C493.9,61.2 497.3,60.6 501.4,60.1 C505.5,59.6 510.2,59.3 514.6,59.1 C519.0,59.0 523.3,59.0 527.7,59.1 C532.1,59.3 537.1,59.9 540.8,60.1 C544.4,60.4 546.2,60.3 549.6,60.6 C553.0,61.0 556.4,61.1 561.0,62.1 C565.6,63.2 571.6,64.8 577.2,66.8 C582.8,68.7 588.8,70.2 594.5,73.7 C600.2,77.1 606.0,82.5 611.7,87.4 C617.4,92.2 623.2,98.0 628.9,102.9 C634.6,107.7 640.4,112.2 646.1,116.7 C651.9,121.2 658.5,126.9 663.4,130.0 C668.3,133.1 673.6,134.3 675.6,135.2"/>
<path d="M378.0,128.5 C380.5,127.8 388.0,126.2 393.0,124.2 C398.0,122.1 401.7,120.0 408.0,116.2 C414.3,112.3 424.7,104.9 430.6,101.2 C436.6,97.4 439.3,96.3 443.7,93.8 C448.1,91.2 452.8,88.1 456.8,85.9 C460.9,83.7 465.0,81.8 468.0,80.6 C471.0,79.3 471.6,78.8 475.0,78.2 C478.4,77.5 483.9,76.9 488.3,76.6 C492.7,76.2 497.0,76.4 501.4,76.0 C505.8,75.5 510.2,74.5 514.6,74.0 C519.0,73.4 523.3,73.0 527.7,72.7 C532.1,72.3 537.1,72.0 540.8,71.7 C544.4,71.3 545.6,70.6 549.6,70.7 C553.6,70.7 558.9,70.6 564.7,72.0 C570.5,73.3 578.9,76.8 584.4,78.6 C589.9,80.3 593.2,81.5 597.6,82.6 C602.0,83.7 606.3,84.1 610.7,85.2 C615.1,86.2 618.9,87.6 623.8,89.1 C628.7,90.6 634.0,91.8 640.0,94.2 C646.0,96.5 654.1,100.8 660.0,103.2 C665.9,105.5 673.0,107.2 675.6,108.0"/>
<path d="M378.0,134.2 C380.5,133.4 387.7,132.0 393.0,129.8 C398.3,127.6 403.8,124.6 410.0,121.2 C416.2,117.7 424.4,112.5 430.0,109.2 C435.6,105.8 439.2,103.2 443.7,101.2 C448.2,99.1 452.8,97.8 456.8,96.7 C460.9,95.5 464.1,94.7 468.0,94.2 C471.9,93.6 474.6,93.2 480.0,93.5 C485.4,93.7 493.6,94.9 500.4,95.4 C507.2,95.8 512.7,96.1 520.9,96.4 C529.1,96.6 541.1,97.1 549.6,97.0 C558.1,96.8 565.9,96.3 572.0,95.8 C578.1,95.2 582.0,94.0 586.3,93.5 C590.6,92.9 593.5,92.0 597.6,92.2 C601.7,92.3 606.3,93.4 610.7,94.4 C615.1,95.3 619.4,95.7 623.8,97.7 C628.2,99.6 632.6,103.2 637.0,106.2 C641.4,109.1 645.6,112.4 650.0,115.2 C654.4,117.9 659.1,120.9 663.4,122.7 C667.7,124.5 673.6,125.5 675.6,126.0"/>
<path d="M378.0,107.2 C381.7,107.0 393.0,106.5 400.0,106.2 C407.0,105.8 413.3,105.8 420.0,105.2 C426.7,104.5 433.3,103.7 440.0,102.2 C446.7,100.7 454.2,98.0 460.0,96.2 C465.8,94.3 470.3,93.0 475.0,91.2 C479.7,89.3 483.9,87.2 488.3,85.2 C492.7,83.1 497.0,80.8 501.4,78.6 C505.8,76.4 510.2,74.1 514.6,72.0 C519.0,69.8 523.3,67.2 527.7,65.5 C532.1,63.7 537.1,62.3 540.8,61.4 C544.4,60.6 546.4,60.3 549.6,60.1 C552.8,60.0 555.8,60.8 560.0,60.6 C564.2,60.5 570.0,59.7 575.0,59.1 C580.0,58.6 584.2,57.2 590.0,57.1 C595.8,57.1 603.3,58.1 610.0,58.6 C616.7,59.1 623.3,60.1 630.0,60.1 C636.7,60.2 642.4,59.2 650.0,59.1 C657.6,59.1 671.3,59.7 675.6,59.8"/>
<path d="M378.0,107.2 C380.5,107.1 388.0,106.6 393.0,106.4 C398.0,106.1 402.9,105.9 408.0,105.7 C413.1,105.4 418.4,105.2 423.5,104.9 C428.6,104.5 433.6,104.1 438.7,103.4 C443.8,102.7 448.9,101.4 454.0,100.7 C459.1,99.9 464.7,99.1 469.0,98.8 C473.3,98.4 474.8,98.2 480.0,98.4 C485.2,98.5 493.6,99.3 500.4,99.9 C507.2,100.4 512.7,100.9 520.9,101.5 C529.1,102.0 541.1,102.6 549.6,103.5 C558.1,104.3 564.9,105.5 572.0,106.6 C579.1,107.6 585.6,108.5 592.4,109.7 C599.2,110.9 605.3,111.4 612.8,113.8 C620.3,116.1 629.1,120.6 637.5,123.7 C645.9,126.7 657.0,129.9 663.4,132.2 C669.8,134.4 673.6,136.4 675.6,137.3"/>
<path d="M378.0,134.2 C380.5,133.4 388.0,131.6 393.0,129.8 C398.0,128.0 402.9,125.3 408.0,123.2 C413.1,121.0 418.4,118.7 423.5,116.7 C428.6,114.6 433.6,112.6 438.7,110.7 C443.8,108.7 448.8,106.3 454.0,105.2 C459.2,104.0 464.8,103.7 470.0,103.7 C475.2,103.6 480.1,104.3 485.2,104.7 C490.2,105.0 494.4,105.8 500.3,106.0 C506.2,106.1 512.7,106.0 520.9,105.6 C529.1,105.1 541.1,104.1 549.6,103.5 C558.1,102.8 566.0,102.2 572.0,101.9 C578.0,101.5 581.1,101.2 585.8,101.2 C590.5,101.1 595.7,101.4 600.0,101.7 C604.3,101.9 605.5,102.2 611.7,102.9 C618.0,103.5 626.9,104.5 637.5,105.5 C648.1,106.4 669.2,108.2 675.6,108.8"/>
<path d="M378.0,179.1 C380.1,178.5 386.1,177.8 390.6,175.6 C395.1,173.5 400.3,169.8 405.2,166.1 C410.1,162.3 414.9,157.6 419.8,153.0 C424.7,148.3 429.5,142.7 434.4,138.3 C439.3,134.0 444.1,129.8 449.0,126.7 C453.9,123.5 459.1,121.4 463.6,119.4 C468.1,117.3 471.6,115.5 476.0,114.2 C480.4,113.0 483.0,112.5 490.0,112.2 C497.0,111.8 508.1,112.1 518.0,112.0 C527.9,111.8 541.5,110.9 549.6,111.2 C557.7,111.4 560.4,112.2 566.4,113.7 C572.4,115.1 579.9,117.5 585.8,119.7 C591.6,121.8 596.2,123.9 601.5,126.8 C606.8,129.6 612.0,132.9 617.3,137.0 C622.6,141.0 628.4,146.4 633.1,151.2 C637.8,155.9 641.5,161.3 645.7,165.3 C649.9,169.4 653.3,173.1 658.3,175.3 C663.3,177.6 672.7,178.2 675.6,178.8"/>
<path d="M378.0,183.1 C381.3,182.2 392.1,180.4 397.9,178.1 C403.6,175.7 407.6,172.5 412.5,169.1 C417.4,165.6 422.2,161.2 427.1,157.3 C432.0,153.5 436.8,149.1 441.7,146.2 C446.6,143.2 451.6,141.3 456.3,139.7 C461.0,138.0 465.1,136.9 470.0,136.0 C474.9,135.0 480.7,134.2 486.0,133.8 C491.3,133.3 496.7,133.3 502.0,133.5 C507.3,133.6 512.7,134.1 518.0,134.5 C523.3,134.8 528.7,135.3 534.0,135.6 C539.3,135.8 544.3,135.9 549.6,136.1 C554.9,136.2 560.6,136.2 566.0,136.5 C571.4,136.7 577.0,136.9 582.0,137.6 C587.0,138.2 591.7,139.1 596.0,140.7 C600.3,142.2 604.0,144.8 608.0,147.2 C612.0,149.5 615.8,151.9 620.0,154.7 C624.2,157.4 628.3,160.9 633.1,163.8 C637.9,166.6 644.1,169.2 648.8,171.7 C653.5,174.1 656.9,176.7 661.4,178.6 C665.9,180.6 673.2,182.7 675.6,183.6"/>
<path d="M378.0,148.0 C380.1,147.6 386.1,146.8 390.6,145.7 C395.1,144.5 400.3,142.9 405.2,141.2 C410.1,139.6 414.9,137.4 419.8,135.5 C424.7,133.5 429.5,131.5 434.4,129.6 C439.3,127.6 444.1,125.7 449.0,123.8 C453.9,121.8 458.4,119.8 463.6,118.0 C468.8,116.2 473.9,114.0 480.0,113.0 C486.1,111.9 493.6,111.9 500.4,111.7 C507.2,111.4 512.7,111.3 520.9,111.2 C529.1,111.2 541.1,111.0 549.6,111.2 C558.1,111.5 564.9,111.6 572.0,112.7 C579.1,113.8 585.6,116.0 592.4,117.9 C599.2,119.7 606.5,121.8 612.8,124.0 C619.1,126.1 624.6,128.3 630.0,130.7 C635.4,133.0 640.0,136.0 645.0,138.2 C650.0,140.3 654.9,142.1 660.0,143.7 C665.1,145.2 673.0,146.9 675.6,147.5"/>
<path d="M378.0,148.0 C381.3,147.4 392.1,145.8 397.9,144.2 C403.6,142.5 407.6,140.5 412.5,138.3 C417.4,136.2 422.2,133.5 427.1,131.1 C432.0,128.6 436.8,126.2 441.7,123.8 C446.6,121.3 451.4,118.7 456.3,116.5 C461.2,114.2 466.9,111.6 470.9,110.2 C474.8,108.7 475.1,108.3 480.0,107.8 C484.9,107.2 493.6,106.9 500.4,106.6 C507.2,106.2 512.7,106.1 520.9,105.6 C529.1,105.0 541.1,104.1 549.6,103.5 C558.1,102.8 564.9,102.4 572.0,101.9 C579.1,101.4 586.9,101.1 592.4,100.5 C597.9,99.8 600.4,98.9 605.0,98.2 C609.6,97.4 615.0,96.2 620.0,96.2 C625.0,96.2 630.0,96.0 635.0,98.2 C640.0,100.3 645.3,104.3 650.0,109.2 C654.7,114.0 658.7,123.0 663.0,127.2 C667.3,131.3 673.5,132.8 675.6,133.9"/>
</g>
<g stroke="#d4483a" stroke-width="2.0">
<path d="M378.0,53.8 C380.2,54.0 386.7,54.6 391.0,55.1 C395.3,55.6 399.7,56.0 404.0,56.5 C408.3,57.0 412.6,57.6 417.0,57.8 C421.4,58.0 426.2,58.5 430.6,57.8 C435.1,57.1 439.3,55.0 443.7,53.8 C448.1,52.6 452.8,51.4 456.8,50.5 C460.9,49.6 465.0,49.1 468.0,48.6 C471.0,48.1 471.7,47.5 475.0,47.2 C478.3,46.9 483.6,46.7 488.0,46.6 C492.4,46.5 497.0,46.4 501.4,46.6 C505.8,46.8 510.2,47.2 514.6,47.9 C519.0,48.5 523.3,49.8 527.7,50.5 C532.1,51.2 537.1,52.0 540.8,52.3 C544.4,52.6 545.6,52.5 549.6,52.5 C553.6,52.5 558.9,52.2 564.7,52.1 C570.5,52.0 578.9,51.5 584.4,51.6 C589.9,51.7 593.2,51.7 597.6,52.5 C602.0,53.3 606.3,55.4 610.7,56.4 C615.1,57.4 619.3,58.2 623.8,58.4 C628.3,58.6 632.4,58.0 637.5,57.5 C642.6,57.0 648.4,56.3 654.7,55.5 C661.1,54.7 672.1,53.3 675.6,52.9"/>
<path d="M378.0,59.7 C380.2,59.8 386.7,60.0 391.0,60.4 C395.3,60.8 399.7,61.8 404.0,62.4 C408.3,63.0 412.6,63.6 417.0,63.7 C421.4,63.8 426.2,63.3 430.6,63.0 C435.1,62.7 439.3,62.4 443.7,61.7 C448.1,61.1 452.8,60.1 456.8,59.1 C460.9,58.1 465.0,56.8 468.0,55.5 C471.0,54.2 471.7,52.5 475.0,51.5 C478.3,50.5 483.6,49.8 488.0,49.5 C492.4,49.2 497.0,49.5 501.4,49.9 C505.8,50.3 510.2,51.0 514.6,51.8 C519.0,52.6 523.3,53.8 527.7,54.5 C532.1,55.2 537.1,55.6 540.8,55.8 C544.4,56.0 545.6,56.0 549.6,55.8 C553.6,55.6 558.9,54.8 564.7,54.5 C570.5,54.2 578.9,53.7 584.4,53.8 C589.9,53.9 593.2,54.3 597.6,55.1 C602.0,55.9 606.3,57.3 610.7,58.4 C615.1,59.5 619.3,61.0 623.8,61.7 C628.3,62.4 632.4,62.6 637.5,62.5 C642.6,62.4 648.4,61.8 654.7,61.3 C661.1,60.8 672.1,60.0 675.6,59.8"/>
<path d="M378.0,59.7 C380.2,59.8 386.7,60.0 391.0,60.4 C395.3,60.8 399.7,61.9 404.0,62.4 C408.3,62.9 412.6,63.6 417.0,63.3 C421.4,63.0 426.2,61.5 430.6,60.5 C435.1,59.5 439.3,58.3 443.7,57.5 C448.1,56.7 452.8,56.0 456.8,55.5 C460.9,55.0 462.8,54.9 468.0,54.5 C473.2,54.1 482.4,53.2 488.0,53.1 C493.6,53.0 497.0,53.5 501.4,53.8 C505.8,54.1 510.2,54.6 514.6,55.1 C519.0,55.6 523.3,56.5 527.7,57.0 C532.1,57.5 537.1,58.0 540.8,58.2 C544.4,58.4 545.6,58.6 549.6,58.4 C553.6,58.2 558.9,57.0 564.7,57.1 C570.5,57.2 578.9,58.2 584.4,59.1 C589.9,60.0 593.2,61.1 597.6,62.3 C602.0,63.5 606.3,65.0 610.7,66.3 C615.1,67.6 619.8,69.3 623.8,70.2 C627.8,71.1 629.8,71.2 635.0,71.5 C640.2,71.8 648.2,71.7 655.0,71.8 C661.8,71.9 672.2,71.9 675.6,71.9"/>
<path d="M378.0,71.6 C380.2,71.6 386.7,71.5 391.0,71.6 C395.3,71.7 399.7,71.8 404.0,72.0 C408.3,72.2 412.6,72.5 417.0,72.9 C421.4,73.3 427.2,73.8 430.6,74.2 C434.0,74.6 433.8,74.7 437.1,75.5 C440.4,76.3 446.2,77.7 450.3,78.8 C454.4,79.9 457.9,81.0 462.0,82.0 C466.1,83.0 470.6,84.0 475.0,84.7 C479.4,85.4 483.9,86.0 488.3,86.0 C492.7,86.0 497.0,85.6 501.4,84.7 C505.8,83.8 510.2,82.0 514.6,80.7 C519.0,79.4 523.3,78.1 527.7,76.8 C532.1,75.5 537.1,73.9 540.8,73.0 C544.4,72.1 545.6,71.1 549.6,71.5 C553.6,71.9 558.9,73.8 564.7,75.5 C570.5,77.2 578.9,80.2 584.4,82.0 C589.9,83.8 593.2,84.0 597.6,86.0 C602.0,88.0 606.3,91.6 610.7,93.9 C615.1,96.2 619.4,97.3 623.8,100.0 C628.2,102.7 632.6,106.5 637.0,110.0 C641.4,113.5 645.6,118.0 650.0,121.0 C654.4,124.0 659.1,126.3 663.4,127.9 C667.7,129.5 673.6,130.0 675.6,130.4"/>
<path d="M378.0,71.6 C382.3,71.7 397.5,71.8 404.0,72.0 C410.5,72.2 412.6,72.9 417.0,72.9 C421.4,72.9 426.2,72.8 430.6,72.2 C435.1,71.7 439.3,70.8 443.7,69.6 C448.1,68.4 452.8,66.8 456.8,65.0 C460.9,63.2 464.5,60.5 468.0,59.1 C471.5,57.7 474.3,57.0 478.0,56.5 C481.7,56.0 486.1,56.0 490.0,56.0 C493.9,56.0 497.3,56.5 501.4,56.8 C505.5,57.1 510.2,57.4 514.6,57.8 C519.0,58.2 523.3,58.8 527.7,59.3 C532.1,59.8 537.1,60.3 540.8,60.6 C544.4,60.9 545.6,60.8 549.6,61.0 C553.6,61.2 558.9,61.2 564.7,61.7 C570.5,62.2 578.9,62.6 584.4,63.7 C589.9,64.8 593.2,66.9 597.6,68.2 C602.0,69.5 606.3,70.8 610.7,71.5 C615.1,72.2 618.1,72.1 623.8,72.2 C629.5,72.3 636.4,72.0 645.0,72.0 C653.6,72.0 670.5,71.9 675.6,71.9"/>
<path d="M378.0,86.7 C380.2,86.6 386.7,86.5 391.0,86.0 C395.3,85.5 399.6,85.0 404.0,84.0 C408.4,83.0 414.1,81.2 417.4,80.1 C420.7,79.0 421.4,78.0 424.0,77.5 C426.6,77.0 429.9,76.6 433.2,76.8 C436.5,77.0 439.8,78.0 443.7,78.8 C447.6,79.6 452.8,80.7 456.8,81.4 C460.9,82.1 464.5,82.9 468.0,83.0 C471.5,83.1 474.3,82.8 478.0,82.0 C481.7,81.2 486.1,79.5 490.0,78.0 C493.9,76.5 497.3,74.6 501.4,73.0 C505.5,71.4 510.2,69.8 514.6,68.5 C519.0,67.2 523.3,66.3 527.7,65.5 C532.1,64.7 537.1,63.9 540.8,63.5 C544.4,63.1 545.6,62.5 549.6,63.0 C553.6,63.5 558.9,65.1 564.7,66.3 C570.5,67.5 578.9,68.9 584.4,70.2 C589.9,71.5 593.2,72.7 597.6,74.2 C602.0,75.7 606.3,78.1 610.7,79.4 C615.1,80.7 618.9,81.2 623.8,82.0 C628.7,82.8 631.4,83.8 640.0,84.5 C648.6,85.2 669.7,86.2 675.6,86.5"/>
<path d="M378.0,96.5 C380.2,96.0 386.6,94.8 391.0,93.2 C395.4,91.6 401.0,88.7 404.3,86.7 C407.6,84.7 408.6,82.8 410.8,81.4 C413.0,80.0 414.1,78.9 417.4,78.1 C420.7,77.3 427.3,77.1 430.6,76.8 C433.9,76.5 433.8,76.8 437.1,76.2 C440.4,75.7 446.2,74.5 450.3,73.5 C454.4,72.5 457.9,71.0 462.0,70.2 C466.1,69.4 470.6,69.5 475.0,68.9 C479.4,68.4 483.9,67.5 488.3,66.9 C492.7,66.4 497.0,65.9 501.4,65.6 C505.8,65.3 510.2,65.0 514.6,65.0 C519.0,65.0 523.3,65.2 527.7,65.6 C532.1,66.0 537.1,67.2 540.8,67.6 C544.4,68.0 546.2,67.8 549.6,68.2 C553.0,68.6 556.8,68.9 561.0,70.0 C565.2,71.1 570.2,73.2 575.0,75.0 C579.8,76.8 586.2,79.6 590.0,81.0 C593.8,82.4 594.1,83.7 597.6,83.4 C601.1,83.1 606.3,80.4 610.7,79.4 C615.1,78.4 619.8,77.6 623.8,77.4 C627.8,77.2 631.5,77.6 635.0,78.5 C638.5,79.4 641.7,80.8 645.0,83.0 C648.3,85.2 649.6,89.1 654.7,91.7 C659.8,94.3 672.1,97.4 675.6,98.6"/>
<path d="M378.0,124.7 C380.5,124.1 388.0,122.8 393.0,120.9 C398.0,119.0 403.9,116.5 408.0,113.3 C412.1,110.1 413.6,105.1 417.4,102.0 C421.2,98.9 426.2,97.6 430.6,94.6 C435.0,91.6 439.3,87.3 443.7,84.0 C448.1,80.7 452.8,77.0 456.8,74.8 C460.9,72.6 464.5,72.3 468.0,70.9 C471.5,69.5 474.3,67.8 478.0,66.5 C481.7,65.2 486.1,63.9 490.0,63.0 C493.9,62.1 497.3,61.5 501.4,61.0 C505.5,60.5 510.2,60.2 514.6,60.0 C519.0,59.8 523.3,59.8 527.7,60.0 C532.1,60.2 537.1,60.8 540.8,61.0 C544.4,61.2 546.2,61.2 549.6,61.5 C553.0,61.8 556.4,62.0 561.0,63.0 C565.6,64.0 571.6,65.7 577.2,67.6 C582.8,69.5 588.8,71.1 594.5,74.5 C600.2,77.9 606.0,83.3 611.7,88.2 C617.4,93.1 623.2,98.8 628.9,103.7 C634.6,108.6 640.4,113.2 646.1,117.5 C651.9,121.8 658.5,126.9 663.4,129.6 C668.3,132.3 673.6,133.2 675.6,133.9"/>
<path d="M378.0,128.5 C380.5,127.9 388.0,126.9 393.0,125.0 C398.0,123.1 401.7,120.8 408.0,117.0 C414.3,113.2 424.7,105.7 430.6,102.0 C436.6,98.3 439.3,97.1 443.7,94.6 C448.1,92.0 452.8,88.9 456.8,86.7 C460.9,84.5 465.0,82.7 468.0,81.4 C471.0,80.1 471.6,79.7 475.0,79.0 C478.4,78.3 483.9,77.8 488.3,77.4 C492.7,77.0 497.0,77.2 501.4,76.8 C505.8,76.4 510.2,75.3 514.6,74.8 C519.0,74.2 523.3,73.9 527.7,73.5 C532.1,73.1 537.1,72.8 540.8,72.5 C544.4,72.2 545.6,71.5 549.6,71.5 C553.6,71.5 558.9,71.5 564.7,72.8 C570.5,74.1 578.9,77.6 584.4,79.4 C589.9,81.2 593.2,82.3 597.6,83.4 C602.0,84.5 606.3,84.9 610.7,86.0 C615.1,87.1 618.9,88.4 623.8,89.9 C628.7,91.4 634.0,92.7 640.0,95.0 C646.0,97.3 654.1,101.8 660.0,104.0 C665.9,106.2 673.0,107.3 675.6,108.0"/>
<path d="M378.0,133.4 C380.5,132.8 387.7,131.9 393.0,130.0 C398.3,128.1 403.8,125.3 410.0,122.0 C416.2,118.7 424.4,113.3 430.0,110.0 C435.6,106.7 439.2,104.1 443.7,102.0 C448.2,99.9 452.8,98.7 456.8,97.5 C460.9,96.3 464.1,95.5 468.0,95.0 C471.9,94.5 474.6,94.1 480.0,94.3 C485.4,94.5 493.6,95.7 500.4,96.2 C507.2,96.7 512.7,96.9 520.9,97.2 C529.1,97.5 541.1,97.9 549.6,97.8 C558.1,97.7 565.9,97.2 572.0,96.6 C578.1,96.0 582.0,94.9 586.3,94.3 C590.6,93.7 593.5,92.8 597.6,93.0 C601.7,93.2 606.3,94.3 610.7,95.2 C615.1,96.1 619.4,96.5 623.8,98.5 C628.2,100.5 632.6,104.1 637.0,107.0 C641.4,109.9 645.6,113.4 650.0,116.0 C654.4,118.6 659.1,121.2 663.4,122.7 C667.7,124.2 673.6,124.9 675.6,125.3"/>
<path d="M378.0,107.2 C381.7,107.2 393.0,107.2 400.0,107.0 C407.0,106.8 413.3,106.7 420.0,106.0 C426.7,105.3 433.3,104.5 440.0,103.0 C446.7,101.5 454.2,98.8 460.0,97.0 C465.8,95.2 470.3,93.8 475.0,92.0 C479.7,90.2 483.9,88.1 488.3,86.0 C492.7,83.9 497.0,81.6 501.4,79.4 C505.8,77.2 510.2,75.0 514.6,72.8 C519.0,70.6 523.3,68.0 527.7,66.3 C532.1,64.5 537.1,63.2 540.8,62.3 C544.4,61.4 546.4,61.1 549.6,61.0 C552.8,60.9 555.8,61.7 560.0,61.5 C564.2,61.3 570.0,60.6 575.0,60.0 C580.0,59.4 584.2,58.1 590.0,58.0 C595.8,57.9 603.3,59.0 610.0,59.5 C616.7,60.0 623.3,60.9 630.0,61.0 C636.7,61.1 642.4,60.2 650.0,60.0 C657.6,59.8 671.3,59.8 675.6,59.8"/>
<path d="M378.0,107.2 C380.5,107.2 388.0,107.3 393.0,107.2 C398.0,107.1 402.9,106.8 408.0,106.5 C413.1,106.2 418.4,106.1 423.5,105.7 C428.6,105.3 433.6,104.9 438.7,104.2 C443.8,103.5 448.9,102.3 454.0,101.5 C459.1,100.7 464.7,100.0 469.0,99.6 C473.3,99.2 474.8,99.0 480.0,99.2 C485.2,99.4 493.6,100.2 500.4,100.7 C507.2,101.2 512.7,101.7 520.9,102.3 C529.1,102.9 541.1,103.4 549.6,104.3 C558.1,105.2 564.9,106.4 572.0,107.4 C579.1,108.4 585.6,109.3 592.4,110.5 C599.2,111.7 605.3,112.3 612.8,114.6 C620.3,116.9 629.1,121.4 637.5,124.5 C645.9,127.6 657.0,130.9 663.4,133.0 C669.8,135.1 673.6,136.6 675.6,137.3"/>
<path d="M378.0,133.4 C380.5,132.8 388.0,131.6 393.0,130.0 C398.0,128.4 402.9,126.1 408.0,124.0 C413.1,121.9 418.4,119.6 423.5,117.5 C428.6,115.4 433.6,113.4 438.7,111.5 C443.8,109.6 448.8,107.2 454.0,106.0 C459.2,104.8 464.8,104.6 470.0,104.5 C475.2,104.4 480.1,105.1 485.2,105.5 C490.2,105.9 494.4,106.6 500.3,106.8 C506.2,107.0 512.7,106.8 520.9,106.4 C529.1,106.0 541.1,104.9 549.6,104.3 C558.1,103.7 566.0,103.1 572.0,102.7 C578.0,102.3 581.1,102.0 585.8,102.0 C590.5,102.0 595.7,102.2 600.0,102.5 C604.3,102.8 605.5,103.1 611.7,103.7 C618.0,104.3 626.9,105.6 637.5,106.3 C648.1,107.0 669.2,107.7 675.6,108.0"/>
<path d="M378.0,178.3 C380.1,177.9 386.1,177.6 390.6,175.7 C395.1,173.8 400.3,170.6 405.2,166.9 C410.1,163.2 414.9,158.4 419.8,153.8 C424.7,149.2 429.5,143.6 434.4,139.2 C439.3,134.8 444.1,130.7 449.0,127.5 C453.9,124.3 459.1,122.3 463.6,120.2 C468.1,118.1 471.6,116.3 476.0,115.1 C480.4,113.9 483.0,113.4 490.0,113.0 C497.0,112.6 508.1,113.0 518.0,112.8 C527.9,112.6 541.5,111.7 549.6,112.0 C557.7,112.3 560.4,113.1 566.4,114.5 C572.4,115.9 579.9,118.3 585.8,120.5 C591.6,122.7 596.2,124.7 601.5,127.6 C606.8,130.5 612.0,133.7 617.3,137.8 C622.6,141.9 628.4,147.3 633.1,152.0 C637.8,156.7 641.5,162.2 645.7,166.2 C649.9,170.1 653.3,173.7 658.3,175.7 C663.3,177.7 672.7,177.6 675.6,178.0"/>
<path d="M378.0,182.3 C381.3,181.7 392.1,180.7 397.9,178.6 C403.6,176.5 407.6,173.3 412.5,169.9 C417.4,166.5 422.2,162.0 427.1,158.2 C432.0,154.4 436.8,149.9 441.7,147.0 C446.6,144.1 451.6,142.2 456.3,140.5 C461.0,138.8 465.1,137.8 470.0,136.8 C474.9,135.8 480.7,135.0 486.0,134.6 C491.3,134.2 496.7,134.2 502.0,134.3 C507.3,134.4 512.7,135.0 518.0,135.3 C523.3,135.7 528.7,136.1 534.0,136.4 C539.3,136.7 544.3,136.8 549.6,136.9 C554.9,137.1 560.6,137.1 566.0,137.3 C571.4,137.6 577.0,137.7 582.0,138.4 C587.0,139.1 591.7,139.9 596.0,141.5 C600.3,143.1 604.0,145.7 608.0,148.0 C612.0,150.3 615.8,152.7 620.0,155.5 C624.2,158.3 628.3,161.8 633.1,164.6 C637.9,167.4 644.1,170.1 648.8,172.5 C653.5,174.9 656.9,177.1 661.4,178.8 C665.9,180.5 673.2,182.1 675.6,182.8"/>
<path d="M378.0,148.0 C380.1,147.8 386.1,147.5 390.6,146.5 C395.1,145.5 400.3,143.8 405.2,142.1 C410.1,140.4 414.9,138.2 419.8,136.3 C424.7,134.4 429.5,132.4 434.4,130.4 C439.3,128.4 444.1,126.5 449.0,124.6 C453.9,122.7 458.4,120.6 463.6,118.8 C468.8,117.0 473.9,114.8 480.0,113.8 C486.1,112.8 493.6,112.8 500.4,112.5 C507.2,112.2 512.7,112.2 520.9,112.1 C529.1,112.0 541.1,111.9 549.6,112.1 C558.1,112.3 564.9,112.4 572.0,113.5 C579.1,114.6 585.6,116.8 592.4,118.7 C599.2,120.6 606.5,122.7 612.8,124.8 C619.1,126.9 624.6,129.1 630.0,131.5 C635.4,133.9 640.0,136.8 645.0,139.0 C650.0,141.2 654.9,143.1 660.0,144.5 C665.1,145.9 673.0,147.0 675.6,147.5"/>
<path d="M378.0,148.0 C381.3,147.5 392.1,146.5 397.9,145.0 C403.6,143.5 407.6,141.4 412.5,139.2 C417.4,137.0 422.2,134.3 427.1,131.9 C432.0,129.5 436.8,127.0 441.7,124.6 C446.6,122.2 451.4,119.6 456.3,117.3 C461.2,115.0 466.9,112.5 470.9,111.0 C474.8,109.5 475.1,109.2 480.0,108.6 C484.9,108.0 493.6,107.8 500.4,107.4 C507.2,107.0 512.7,106.9 520.9,106.4 C529.1,105.9 541.1,104.9 549.6,104.3 C558.1,103.7 564.9,103.2 572.0,102.7 C579.1,102.2 586.9,101.9 592.4,101.3 C597.9,100.7 600.4,99.7 605.0,99.0 C609.6,98.3 615.0,97.0 620.0,97.0 C625.0,97.0 630.0,96.8 635.0,99.0 C640.0,101.2 645.3,105.2 650.0,110.0 C654.7,114.8 658.7,124.0 663.0,128.0 C667.3,132.0 673.5,132.9 675.6,133.9"/>
</g>
</g>
<g clip-path="url(#cr)" fill="none" stroke-width="2.0" stroke-linecap="round">
<path stroke="#19607f" d="M378.0,188.3 C381.7,188.6 393.0,189.6 400.0,190.3 C407.0,191.0 413.3,191.6 420.0,192.5 C426.7,193.4 433.0,194.7 440.0,196.0 C447.0,197.3 454.7,198.9 462.0,200.3 C469.3,201.7 476.8,203.0 484.0,204.5 C491.2,206.0 500.2,208.0 505.0,209.5 C509.8,211.0 510.5,211.9 512.9,213.4 C515.3,214.9 517.8,216.4 519.5,218.6 C521.2,220.8 522.3,224.1 523.4,226.5 C524.5,228.9 524.7,230.9 526.0,233.1 C527.3,235.3 529.1,237.9 531.3,239.7 C533.5,241.4 536.1,242.7 539.2,243.6 C542.3,244.5 546.2,244.9 549.7,244.9 C553.2,244.9 557.4,244.5 560.2,243.6 C563.1,242.7 565.2,241.2 566.8,239.7 C568.4,238.2 569.1,236.6 570.0,234.4 C570.9,232.2 571.2,228.7 572.0,226.5 C572.8,224.3 573.1,223.3 574.6,221.3 C576.1,219.3 578.8,216.9 581.2,214.7 C583.6,212.5 585.9,210.5 589.1,208.1 C592.3,205.7 594.4,202.8 600.2,200.0 C606.0,197.2 616.6,193.2 623.8,191.5 C631.0,189.8 634.9,190.1 643.5,189.6 C652.1,189.1 670.2,188.8 675.6,188.6"/>
<path stroke="#8fc6e6" d="M378.0,187.0 C381.7,187.2 393.0,188.0 400.0,188.5 C407.0,189.0 413.3,189.2 420.0,190.0 C426.7,190.8 433.3,192.0 440.0,193.5 C446.7,195.0 453.3,197.3 460.0,198.8 C466.7,200.3 472.5,201.2 480.0,202.5 C487.5,203.8 499.5,205.4 505.0,206.8 C510.5,208.2 510.3,209.1 512.9,210.8 C515.5,212.6 518.6,214.9 520.8,217.3 C523.0,219.7 524.7,223.0 526.0,225.2 C527.3,227.4 527.2,228.3 528.7,230.5 C530.2,232.7 531.7,236.4 535.2,238.4 C538.7,240.4 545.1,242.1 549.7,242.3 C554.3,242.5 559.8,241.2 562.8,239.7 C565.8,238.2 566.3,235.5 567.4,233.1 C568.5,230.7 568.4,227.8 569.4,225.2 C570.4,222.6 571.1,219.9 573.3,217.3 C575.5,214.7 578.9,212.3 582.5,209.5 C586.1,206.7 589.8,203.3 595.0,200.3 C600.2,197.3 607.5,193.3 614.0,191.5 C620.5,189.7 625.5,190.2 633.7,189.6 C641.9,189.0 656.3,188.7 663.3,188.2 C670.3,187.7 673.5,186.9 675.6,186.6"/>
<path stroke="#f8b310" d="M378.0,185.5 C381.7,185.6 393.0,186.0 400.0,186.3 C407.0,186.6 413.3,186.5 420.0,187.2 C426.7,187.9 433.3,189.3 440.0,190.6 C446.7,191.9 453.3,193.8 460.0,195.2 C466.7,196.6 472.5,197.6 480.0,198.8 C487.5,200.0 498.6,200.6 505.0,202.2 C511.4,203.8 513.7,206.2 518.1,208.1 C522.5,210.0 526.9,211.9 531.3,213.4 C535.7,214.9 541.3,216.5 544.4,217.2 C547.5,217.9 547.5,217.8 549.7,217.6 C551.9,217.4 554.1,217.3 557.6,216.0 C561.1,214.7 566.3,211.9 570.7,209.5 C575.1,207.1 579.8,203.8 583.8,201.6 C587.8,199.4 590.6,198.2 595.0,196.3 C599.4,194.4 605.2,191.6 610.0,190.0 C614.8,188.4 618.2,187.4 623.8,186.6 C629.4,185.8 636.9,185.5 643.5,185.2 C650.1,184.9 657.9,184.7 663.3,184.6 C668.6,184.5 673.5,184.6 675.6,184.6"/>
<path stroke="#d4483a" d="M378.0,184.1 C380.8,183.9 388.0,183.0 395.0,183.0 C402.0,183.0 412.5,183.4 420.0,184.0 C427.5,184.6 433.3,185.4 440.0,186.5 C446.7,187.6 453.3,189.2 460.0,190.3 C466.7,191.4 472.5,192.1 480.0,193.0 C487.5,193.9 498.6,194.9 505.0,195.7 C511.4,196.5 513.7,196.9 518.1,197.6 C522.5,198.2 526.9,199.0 531.3,199.6 C535.7,200.2 541.3,201.0 544.4,201.3 C547.5,201.6 547.5,201.5 549.7,201.4 C551.9,201.3 554.1,201.1 557.6,200.5 C561.1,199.9 566.2,198.8 570.7,197.6 C575.2,196.4 578.8,195.2 584.4,193.5 C590.0,191.8 597.5,189.2 604.1,187.6 C610.7,186.0 617.2,184.5 623.8,183.7 C630.4,182.9 636.9,182.8 643.5,182.7 C650.1,182.6 657.9,183.1 663.3,183.3 C668.6,183.5 673.5,183.9 675.6,184.0"/>
</g>
<line x1="224.8" y1="266.5" x2="224.8" y2="32.5" stroke="#999" stroke-width="1.7" stroke-dasharray="7.2,3.55"/>
<line x1="549.6" y1="266.5" x2="549.6" y2="32.5" stroke="#222" stroke-width="1.2" stroke-dasharray="7.2,3.55"/>
<rect x="243.7" y="33.2" width="98.8" height="74.3" fill="#fff"/>
<line x1="246" y1="46.50" x2="293" y2="46.50" stroke="#19607f" stroke-width="2.8"/>
<text x="341.2" y="52.00" font-family="Liberation Sans, sans-serif" font-size="15.3" text-anchor="end">0 K</text>
<line x1="246" y1="65.15" x2="293" y2="65.15" stroke="#8fc6e6" stroke-width="2.8"/>
<text x="341.2" y="70.65" font-family="Liberation Sans, sans-serif" font-size="15.3" text-anchor="end">50 K</text>
<line x1="246" y1="83.80" x2="293" y2="83.80" stroke="#f8b310" stroke-width="2.8"/>
<text x="341.2" y="89.30" font-family="Liberation Sans, sans-serif" font-size="15.3" text-anchor="end">100 K</text>
<line x1="246" y1="102.45" x2="293" y2="102.45" stroke="#d4483a" stroke-width="2.8"/>
<text x="341.2" y="107.95" font-family="Liberation Sans, sans-serif" font-size="15.3" text-anchor="end">200 K</text>
<rect x="53.5" y="32.5" width="297.5" height="234.0" fill="none" stroke="#1c1c1c" stroke-width="1.2"/>
<rect x="378" y="32.5" width="297.6" height="234.0" fill="none" stroke="#1c1c1c" stroke-width="1.2"/>
<line x1="48.8" y1="32.5" x2="53.5" y2="32.5" stroke="#222" stroke-width="1.1"/>
<line x1="48.8" y1="227.4" x2="53.5" y2="227.4" stroke="#222" stroke-width="1.1"/>
<line x1="53.5" y1="266.5" x2="53.5" y2="271.2" stroke="#222" stroke-width="1.1"/>
<line x1="162.6" y1="266.5" x2="162.6" y2="271.2" stroke="#222" stroke-width="1.1"/>
<line x1="224.8" y1="266.5" x2="224.8" y2="271.2" stroke="#222" stroke-width="1.1"/>
<line x1="351" y1="266.5" x2="351" y2="271.2" stroke="#222" stroke-width="1.1"/>
<line x1="378" y1="266.5" x2="378" y2="271.2" stroke="#222" stroke-width="1.1"/>
<line x1="486.8" y1="266.5" x2="486.8" y2="271.2" stroke="#222" stroke-width="1.1"/>
<line x1="549.6" y1="266.5" x2="549.6" y2="271.2" stroke="#222" stroke-width="1.1"/>
<line x1="675.6" y1="266.5" x2="675.6" y2="271.2" stroke="#222" stroke-width="1.1"/>
<text x="46" y="43.3" font-family="Liberation Sans, sans-serif" font-size="21" text-anchor="end">20</text>
<text x="43" y="238" font-family="Liberation Sans, sans-serif" font-size="21" text-anchor="end">0</text>
<text x="54.9" y="292.6" font-family="Liberation Sans, sans-serif" font-size="21" text-anchor="middle">A</text>
<text x="165.2" y="292.6" font-family="Liberation Sans, sans-serif" font-size="21" text-anchor="middle">L</text>
<text x="227.6" y="292.6" font-family="Liberation Sans, sans-serif" font-size="21" text-anchor="middle">H</text>
<text x="348.8" y="292.6" font-family="Liberation Sans, sans-serif" font-size="21" text-anchor="middle">A</text>
<text x="381.6" y="292.6" font-family="Liberation Sans, sans-serif" font-size="21" text-anchor="middle">Γ'</text>
<text x="488.9" y="292.6" font-family="Liberation Sans, sans-serif" font-size="21" text-anchor="middle">M'</text>
<text x="551" y="292.6" font-family="Liberation Sans, sans-serif" font-size="21" text-anchor="middle">K'</text>
<text x="677.7" y="292.6" font-family="Liberation Sans, sans-serif" font-size="21" text-anchor="middle">Γ'</text>
<text transform="translate(17,156.7) rotate(-90)" font-family="Liberation Sans, sans-serif" font-size="21.3" text-anchor="middle">Phonon energy (meV)</text>
<text x="4.5" y="13.6" font-family="Liberation Sans, sans-serif" font-size="25" font-weight="bold">a</text>
<text x="228" y="262" font-family="Liberation Sans, sans-serif" font-size="16" font-weight="bold">q<tspan font-size="11" font-weight="normal" dy="3">2</tspan></text>
<text x="553.5" y="261" font-family="Liberation Sans, sans-serif" font-size="16" font-weight="bold">q<tspan font-size="11" font-weight="normal" dy="3">3</tspan></text>
<rect x="59.3" y="326.6" width="273.7" height="249.60000000000002" fill="none" stroke="#1c1c1c" stroke-width="1.2"/>
<line x1="54.599999999999994" y1="336.3" x2="59.3" y2="336.3" stroke="#222" stroke-width="1.1"/>
<line x1="54.599999999999994" y1="407.9" x2="59.3" y2="407.9" stroke="#222" stroke-width="1.1"/>
<line x1="54.599999999999994" y1="479.5" x2="59.3" y2="479.5" stroke="#222" stroke-width="1.1"/>
<line x1="54.599999999999994" y1="551.1" x2="59.3" y2="551.1" stroke="#222" stroke-width="1.1"/>
<line x1="71.5" y1="576.2" x2="71.5" y2="580.9000000000001" stroke="#222" stroke-width="1.1"/>
<line x1="133.725" y1="576.2" x2="133.725" y2="580.9000000000001" stroke="#222" stroke-width="1.1"/>
<line x1="195.95" y1="576.2" x2="195.95" y2="580.9000000000001" stroke="#222" stroke-width="1.1"/>
<line x1="258.17499999999995" y1="576.2" x2="258.17499999999995" y2="580.9000000000001" stroke="#222" stroke-width="1.1"/>
<line x1="320.4" y1="576.2" x2="320.4" y2="580.9000000000001" stroke="#222" stroke-width="1.1"/>
<text x="49" y="344.3" font-family="Liberation Sans, sans-serif" font-size="21" text-anchor="end">8</text>
<text x="49" y="415.9" font-family="Liberation Sans, sans-serif" font-size="21" text-anchor="end">4</text>
<text x="49" y="487.5" font-family="Liberation Sans, sans-serif" font-size="21" text-anchor="end">0</text>
<text x="49" y="559.1" font-family="Liberation Sans, sans-serif" font-size="21" text-anchor="end">-4</text>
<text x="71.5" y="602.2" font-family="Liberation Sans, sans-serif" font-size="21" text-anchor="middle">0</text>
<text x="133.7" y="602.2" font-family="Liberation Sans, sans-serif" font-size="21" text-anchor="middle">50</text>
<text x="195.9" y="602.2" font-family="Liberation Sans, sans-serif" font-size="21" text-anchor="middle">100</text>
<text x="258.2" y="602.2" font-family="Liberation Sans, sans-serif" font-size="21" text-anchor="middle">150</text>
<text x="320.4" y="602.2" font-family="Liberation Sans, sans-serif" font-size="21" text-anchor="middle">200</text>
<text x="191" y="621.5" font-family="Liberation Sans, sans-serif" font-size="21" text-anchor="middle">Temperature (K)</text>
<text transform="translate(18,450.5) rotate(-90)" font-family="Liberation Sans, sans-serif" font-size="21" text-anchor="middle"><tspan font-family="Liberation Serif, serif" font-style="italic">ω</tspan><tspan font-size="13" dy="-8">2</tspan><tspan dy="8"> (meV</tspan><tspan font-size="13" dy="-8">2</tspan><tspan dy="8">)</tspan></text>
<text x="3.8" y="320.6" font-family="Liberation Sans, sans-serif" font-size="25" font-weight="bold">b</text>
<line x1="71.5" y1="479.5" x2="320.4" y2="479.5" stroke="#777" stroke-width="1.4" stroke-dasharray="7.8,3.2"/>
<line x1="220.8" y1="407.0" x2="320.4" y2="337.2" stroke="#f77b7b" stroke-width="1.1" stroke-dasharray="4,3"/>
<line x1="195.9" y1="478.6" x2="320.4" y2="399.8" stroke="#80b4e0" stroke-width="1.1" stroke-dasharray="4,3"/>
<rect x="191.3" y="401.9" width="9.2" height="9.2" fill="none" stroke="#f77b7b" stroke-width="1.3"/>
<rect x="203.8" y="403.3" width="9.2" height="9.2" fill="none" stroke="#f77b7b" stroke-width="1.3"/>
<rect x="216.2" y="401.2" width="9.2" height="9.2" fill="none" stroke="#f77b7b" stroke-width="1.3"/>
<rect x="228.7" y="390.1" width="9.2" height="9.2" fill="none" stroke="#f77b7b" stroke-width="1.3"/>
<rect x="241.1" y="390.8" width="9.2" height="9.2" fill="none" stroke="#f77b7b" stroke-width="1.3"/>
<rect x="253.6" y="376.6" width="9.2" height="9.2" fill="none" stroke="#f77b7b" stroke-width="1.3"/>
<rect x="266.0" y="358.7" width="9.2" height="9.2" fill="none" stroke="#f77b7b" stroke-width="1.3"/>
<rect x="290.9" y="340.5" width="9.2" height="9.2" fill="none" stroke="#f77b7b" stroke-width="1.3"/>
<rect x="315.8" y="333.0" width="9.2" height="9.2" fill="none" stroke="#f77b7b" stroke-width="1.3"/>
<rect x="191.3" y="473.1" width="9.2" height="9.2" fill="none" stroke="#80b4e0" stroke-width="1.3"/>
<rect x="216.2" y="459.3" width="9.2" height="9.2" fill="none" stroke="#80b4e0" stroke-width="1.3"/>
<rect x="241.1" y="437.8" width="9.2" height="9.2" fill="none" stroke="#80b4e0" stroke-width="1.3"/>
<rect x="266.0" y="431.8" width="9.2" height="9.2" fill="none" stroke="#80b4e0" stroke-width="1.3"/>
<rect x="290.9" y="414.4" width="9.2" height="9.2" fill="none" stroke="#80b4e0" stroke-width="1.3"/>
<rect x="315.8" y="396.0" width="9.2" height="9.2" fill="none" stroke="#80b4e0" stroke-width="1.3"/>
<polyline points="71.5,565.1 133.7,536.2 195.9,499.5 320.4,448.9" fill="none" stroke="#80b4e0" stroke-width="1.9"/>
<polyline points="71.5,534.6 133.7,519.1 195.9,460.0 320.4,351.5" fill="none" stroke="#f77b7b" stroke-width="1.9"/>
<circle cx="71.5" cy="565.1" r="5.3" fill="#80b4e0"/>
<circle cx="133.7" cy="536.2" r="5.3" fill="#80b4e0"/>
<circle cx="195.9" cy="499.5" r="5.3" fill="#80b4e0"/>
<circle cx="320.4" cy="448.9" r="5.3" fill="#80b4e0"/>
<circle cx="71.5" cy="534.6" r="5.3" fill="#f77b7b"/>
<circle cx="133.7" cy="519.1" r="5.3" fill="#f77b7b"/>
<circle cx="195.9" cy="460.0" r="5.3" fill="#f77b7b"/>
<circle cx="320.4" cy="351.5" r="5.3" fill="#f77b7b"/>
<rect x="65.2" y="342.2" width="5.6" height="5.6" fill="none" stroke="#80b4e0" stroke-width="1"/>
<rect x="65.2" y="356.7" width="5.6" height="5.6" fill="none" stroke="#f77b7b" stroke-width="1"/>
<text x="78.5" y="351" font-family="Liberation Sans, sans-serif" font-size="15">Exp(<tspan font-weight="bold">q</tspan><tspan font-size="10" dy="3">2</tspan><tspan dy="-3">)</tspan></text>
<text x="78.5" y="366" font-family="Liberation Sans, sans-serif" font-size="15">Exp(<tspan font-weight="bold">q</tspan><tspan font-size="10" dy="3" font-weight="bold">3</tspan><tspan dy="-3">)</tspan></text>
<circle cx="160.2" cy="346.6" r="4.5" fill="#80b4e0"/>
<circle cx="160.2" cy="361.6" r="4.5" fill="#f77b7b"/>
<text x="172" y="351" font-family="Liberation Sans, sans-serif" font-size="15" font-weight="bold">q<tspan font-size="10" font-weight="normal" dy="3">2</tspan></text>
<text x="172" y="366" font-family="Liberation Sans, sans-serif" font-size="15" font-weight="bold">q<tspan font-size="10" dy="3">3</tspan></text>
<line x1="174.1" y1="450.1" x2="174.1" y2="463.3" stroke="#000" stroke-width="2.1"/><polygon points="168.29999999999998,463.3 179.9,463.3 174.1,474.8" fill="#000"/>
<line x1="245.1" y1="509.5" x2="245.1" y2="497.0" stroke="#000" stroke-width="2.1"/><polygon points="239.29999999999998,497.0 250.9,497.0 245.1,485.5" fill="#000"/>
<text x="200.6" y="442.6" font-family="Liberation Sans, sans-serif" font-size="16" text-anchor="end">T<tspan font-size="8.5" font-weight="bold" dy="-6.5">*</tspan><tspan dy="6.5">=84 K</tspan></text>
<text x="214.8" y="527" font-family="Liberation Sans, sans-serif" font-size="16">T<tspan font-size="8.5" font-weight="bold" dy="-6.5">*</tspan><tspan dy="6.5">=140 K</tspan></text>
<rect x="400.3" y="323.2" width="276.40000000000003" height="252.59999999999997" fill="none" stroke="#1c1c1c" stroke-width="1.2"/>
<line x1="395.6" y1="335.2" x2="400.3" y2="335.2" stroke="#222" stroke-width="1.1"/>
<line x1="395.6" y1="402.2" x2="400.3" y2="402.2" stroke="#222" stroke-width="1.1"/>
<line x1="395.6" y1="469.2" x2="400.3" y2="469.2" stroke="#222" stroke-width="1.1"/>
<line x1="395.6" y1="536.2" x2="400.3" y2="536.2" stroke="#222" stroke-width="1.1"/>
<line x1="412.2" y1="575.8" x2="412.2" y2="580.5" stroke="#222" stroke-width="1.1"/>
<line x1="663.8" y1="575.8" x2="663.8" y2="580.5" stroke="#222" stroke-width="1.1"/>
<text x="392" y="343.2" font-family="Liberation Sans, sans-serif" font-size="21" text-anchor="end">0</text>
<text x="392" y="410.2" font-family="Liberation Sans, sans-serif" font-size="21" text-anchor="end">-1</text>
<text x="392" y="477.2" font-family="Liberation Sans, sans-serif" font-size="21" text-anchor="end">-2</text>
<text x="392" y="544.2" font-family="Liberation Sans, sans-serif" font-size="21" text-anchor="end">-3</text>
<text x="412.2" y="600.6" font-family="Liberation Sans, sans-serif" font-size="21" text-anchor="middle">0</text>
<text x="661.8" y="600.6" font-family="Liberation Sans, sans-serif" font-size="21" text-anchor="middle">50</text>
<text x="536.5" y="621.5" font-family="Liberation Sans, sans-serif" font-size="21" text-anchor="middle">Temperature (K)</text>
<text transform="translate(363.5,451) rotate(-90)" font-family="Liberation Sans, sans-serif" font-size="21.3" text-anchor="middle">Free energy (meV/f.u.)</text>
<text x="351.5" y="322.2" font-family="Liberation Sans, sans-serif" font-size="25" font-weight="bold">c</text>
<line x1="412.2" y1="335.2" x2="663.8" y2="335.2" stroke="#000" stroke-width="2"/>
<line x1="412.2" y1="443.1" x2="663.8" y2="374.1" stroke="#80b4e0" stroke-width="1.8"/>
<line x1="412.2" y1="565.7" x2="663.8" y2="355.3" stroke="#f77b7b" stroke-width="1.8"/>
<circle cx="412.2" cy="335.2" r="4.6" fill="#000"/>
<circle cx="663.8" cy="335.2" r="4.6" fill="#000"/>
<circle cx="412.2" cy="443.1" r="4.6" fill="#80b4e0"/>
<circle cx="663.8" cy="374.1" r="4.6" fill="#80b4e0"/>
<circle cx="412.2" cy="565.7" r="4.6" fill="#f77b7b"/>
<circle cx="663.8" cy="355.3" r="4.6" fill="#f77b7b"/>
<line x1="631.8" y1="416.7" x2="631.8" y2="405.6" stroke="#000" stroke-width="2.1"/><polygon points="626.0,405.6 637.5999999999999,405.6 631.8,394.1" fill="#000"/>
<text x="602.3" y="437" font-family="Liberation Sans, sans-serif" font-size="15.5">T<tspan font-size="10.5" dy="3">c</tspan><tspan dy="-3">=43 K</tspan></text>
<circle cx="605.7" cy="535.2" r="4.6" fill="#000"/>
<text x="617.5" y="540.2" font-family="Liberation Sans, sans-serif" font-size="16">pristine</text>
<circle cx="605.7" cy="550.1" r="4.6" fill="#80b4e0"/>
<text x="617.5" y="555.1" font-family="Liberation Sans, sans-serif" font-size="16" font-weight="bold">q<tspan font-size="11" font-weight="normal" dy="3">2</tspan></text>
<circle cx="605.7" cy="565.0" r="4.6" fill="#f77b7b"/>
<text x="617.5" y="570.0" font-family="Liberation Sans, sans-serif" font-size="16" font-weight="bold">q<tspan font-size="11" font-weight="normal" dy="3">3</tspan></text>
</svg>
</body></html>
